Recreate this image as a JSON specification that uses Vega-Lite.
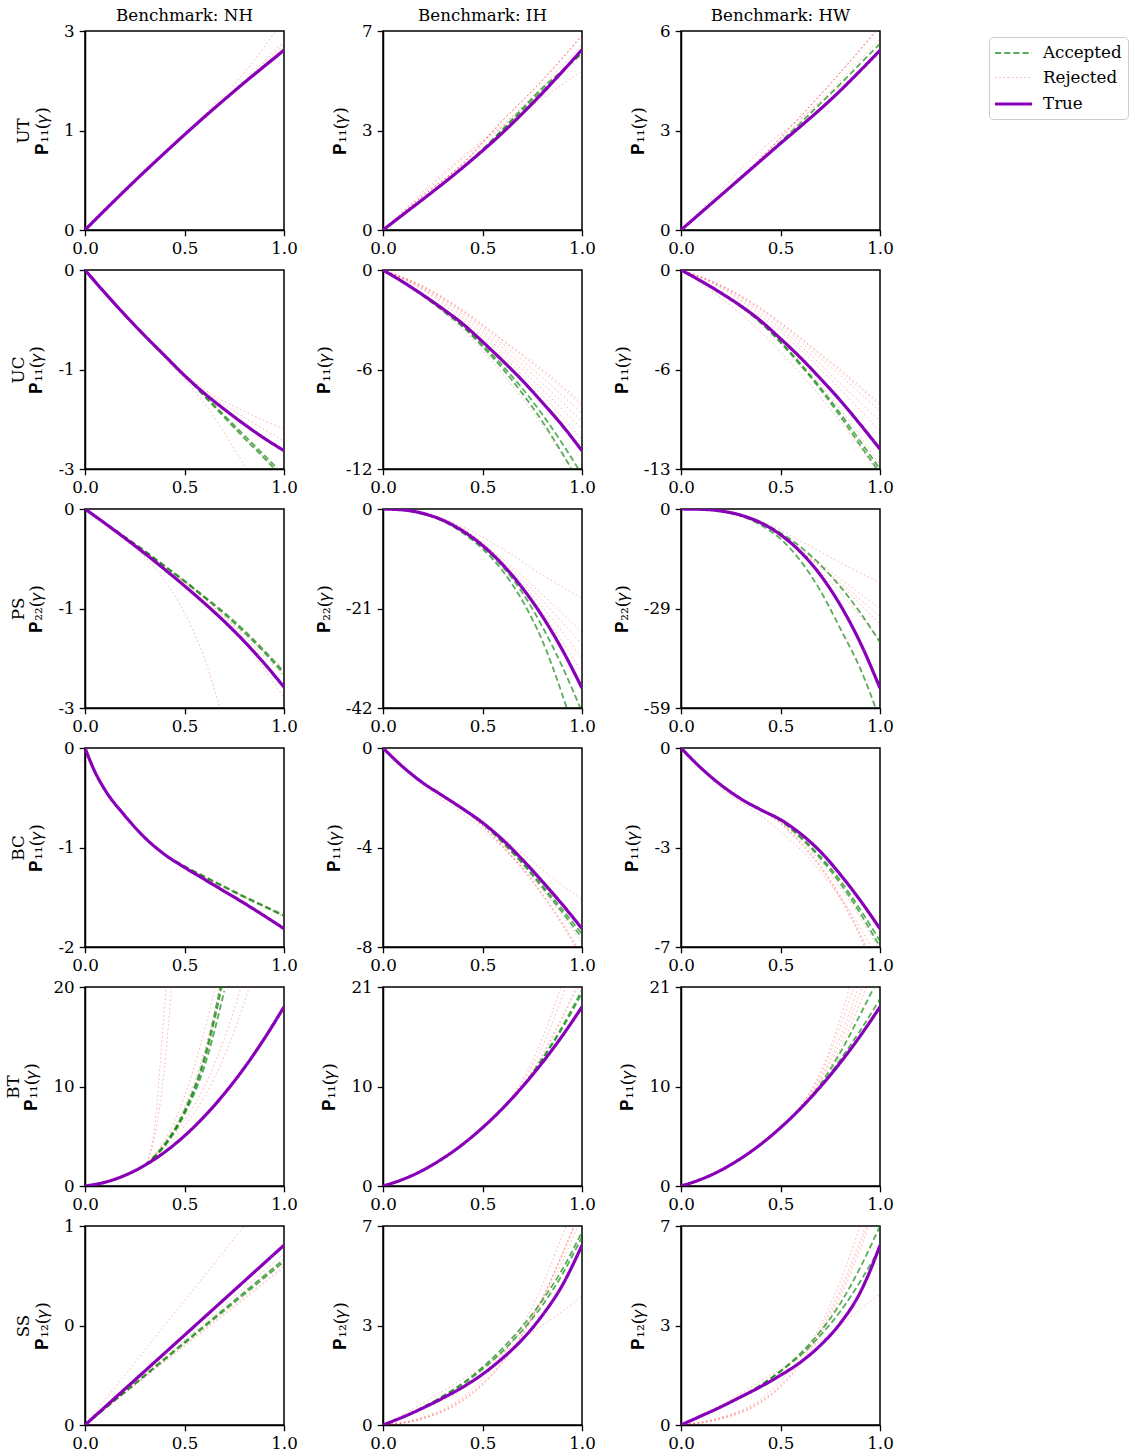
{
"$schema":"https://vega.github.io/schema/vega-lite/v6.json",
"background":"white",
"padding":{"left":4,"top":7,"right":2,"bottom":5},
"config":{
 "font":"DejaVu Serif",
 "view":{"stroke":"black","strokeWidth":1.5},
 "axis":{"grid":false,"domainColor":"black","domainWidth":1.5,"tickColor":"black","tickSize":5.8,"tickWidth":1.3,"labelColor":"black","labelFontSize":16.7,"labelFont":"DejaVu Serif","labelPadding":5,"titleFont":"DejaVu Serif","titleFontSize":16.7,"titleFontWeight":"normal","titleColor":"black","titlePadding":12,"labelFlush":false,"labelOverlap":false},
 "title":{"font":"DejaVu Serif","fontSize":16.7,"fontWeight":"normal","color":"black","offset":-2},
 "legend":{"orient":"none","legendX":904,"legendY":6,"symbolType":"M-1.22,0H2.9","symbolSize":324,"labelFont":"DejaVu Serif","labelFontSize":16.7,"labelColor":"black","strokeColor":"#cccccc","cornerRadius":4,"padding":6,"fillColor":"white","rowPadding":6,"labelOffset":26}
},
"datasets":{
"UT_NH":[
{"s":"Rejected","c":1,"x":0,"y":0},{"s":"Rejected","c":1,"x":0.2,"y":0.52},{"s":"Rejected","c":1,"x":0.4,"y":1.014},{"s":"Rejected","c":1,"x":0.6,"y":1.508},{"s":"Rejected","c":1,"x":0.8,"y":2.054},{"s":"Rejected","c":1,"x":1,"y":2.756},
{"s":"Rejected","c":2,"x":0,"y":0},{"s":"Rejected","c":2,"x":0.2,"y":0.515},{"s":"Rejected","c":2,"x":0.4,"y":1.006},{"s":"Rejected","c":2,"x":0.6,"y":1.477},{"s":"Rejected","c":2,"x":0.8,"y":1.937},{"s":"Rejected","c":2,"x":1,"y":2.431},
{"s":"Rejected","c":3,"x":0,"y":0},{"s":"Rejected","c":3,"x":0.2,"y":0.515},{"s":"Rejected","c":3,"x":0.4,"y":1.006},{"s":"Rejected","c":3,"x":0.6,"y":1.477},{"s":"Rejected","c":3,"x":0.8,"y":1.929},{"s":"Rejected","c":3,"x":1,"y":2.392},
{"s":"Rejected","c":4,"x":0,"y":0},{"s":"Rejected","c":4,"x":0.2,"y":0.515},{"s":"Rejected","c":4,"x":0.4,"y":1.006},{"s":"Rejected","c":4,"x":0.6,"y":1.482},{"s":"Rejected","c":4,"x":0.8,"y":1.95},{"s":"Rejected","c":4,"x":1,"y":2.47},
{"s":"Accepted","c":5,"x":0,"y":0},{"s":"Accepted","c":5,"x":0.2,"y":0.515},{"s":"Accepted","c":5,"x":0.4,"y":1.006},{"s":"Accepted","c":5,"x":0.6,"y":1.477},{"s":"Accepted","c":5,"x":0.8,"y":1.93},{"s":"Accepted","c":5,"x":1,"y":2.36},
{"s":"True","c":0,"x":0,"y":0},{"s":"True","c":0,"x":0.1,"y":0.26},{"s":"True","c":0,"x":0.2,"y":0.515},{"s":"True","c":0,"x":0.3,"y":0.764},{"s":"True","c":0,"x":0.4,"y":1.006},{"s":"True","c":0,"x":0.5,"y":1.245},{"s":"True","c":0,"x":0.6,"y":1.477},{"s":"True","c":0,"x":0.7,"y":1.703},{"s":"True","c":0,"x":0.8,"y":1.924},{"s":"True","c":0,"x":0.9,"y":2.137},{"s":"True","c":0,"x":1,"y":2.348}
],
"UT_IH":[
{"s":"Rejected","c":1,"x":0,"y":0},{"s":"Rejected","c":1,"x":0.2,"y":1.135},{"s":"Rejected","c":1,"x":0.4,"y":2.2},{"s":"Rejected","c":1,"x":0.6,"y":3.63},{"s":"Rejected","c":1,"x":0.8,"y":4.95},{"s":"Rejected","c":1,"x":1,"y":6.435},
{"s":"Rejected","c":2,"x":0,"y":0},{"s":"Rejected","c":2,"x":0.2,"y":1.122},{"s":"Rejected","c":2,"x":0.4,"y":2.19},{"s":"Rejected","c":2,"x":0.6,"y":3.617},{"s":"Rejected","c":2,"x":0.8,"y":4.963},{"s":"Rejected","c":2,"x":1,"y":6.468},
{"s":"Rejected","c":3,"x":0,"y":0},{"s":"Rejected","c":3,"x":0.2,"y":1.188},{"s":"Rejected","c":3,"x":0.4,"y":2.376},{"s":"Rejected","c":3,"x":0.6,"y":3.432},{"s":"Rejected","c":3,"x":0.8,"y":4.356},{"s":"Rejected","c":3,"x":1,"y":5.28},
{"s":"Rejected","c":4,"x":0,"y":0},{"s":"Rejected","c":4,"x":0.2,"y":1.056},{"s":"Rejected","c":4,"x":0.4,"y":2.178},{"s":"Rejected","c":4,"x":0.6,"y":3.432},{"s":"Rejected","c":4,"x":0.8,"y":4.752},{"s":"Rejected","c":4,"x":1,"y":6.138},
{"s":"Rejected","c":5,"x":0,"y":0},{"s":"Rejected","c":5,"x":0.2,"y":1.254},{"s":"Rejected","c":5,"x":0.4,"y":2.442},{"s":"Rejected","c":5,"x":0.6,"y":3.498},{"s":"Rejected","c":5,"x":0.8,"y":4.62},{"s":"Rejected","c":5,"x":1,"y":5.742},
{"s":"Rejected","c":11,"x":0,"y":0},{"s":"Rejected","c":11,"x":0.2,"y":1.13},{"s":"Rejected","c":11,"x":0.4,"y":2.21},{"s":"Rejected","c":11,"x":0.6,"y":3.625},{"s":"Rejected","c":11,"x":0.8,"y":4.955},{"s":"Rejected","c":11,"x":1,"y":6.45},
{"s":"Accepted","c":6,"x":0,"y":0},{"s":"Accepted","c":6,"x":0.1,"y":0.508},{"s":"Accepted","c":6,"x":0.2,"y":1.016},{"s":"Accepted","c":6,"x":0.3,"y":1.531},{"s":"Accepted","c":6,"x":0.4,"y":2.079},{"s":"Accepted","c":6,"x":0.5,"y":2.673},{"s":"Accepted","c":6,"x":0.6,"y":3.333},{"s":"Accepted","c":6,"x":0.7,"y":4.026},{"s":"Accepted","c":6,"x":0.8,"y":4.706},{"s":"Accepted","c":6,"x":0.9,"y":5.28},{"s":"Accepted","c":6,"x":1,"y":5.848},
{"s":"Accepted","c":7,"x":0,"y":0},{"s":"Accepted","c":7,"x":0.1,"y":0.508},{"s":"Accepted","c":7,"x":0.2,"y":1.016},{"s":"Accepted","c":7,"x":0.3,"y":1.531},{"s":"Accepted","c":7,"x":0.4,"y":2.079},{"s":"Accepted","c":7,"x":0.5,"y":2.66},{"s":"Accepted","c":7,"x":0.6,"y":3.3},{"s":"Accepted","c":7,"x":0.7,"y":3.96},{"s":"Accepted","c":7,"x":0.8,"y":4.62},{"s":"Accepted","c":7,"x":0.9,"y":5.247},{"s":"Accepted","c":7,"x":1,"y":5.894},
{"s":"True","c":0,"x":0,"y":0},{"s":"True","c":0,"x":0.1,"y":0.508},{"s":"True","c":0,"x":0.2,"y":1.016},{"s":"True","c":0,"x":0.3,"y":1.531},{"s":"True","c":0,"x":0.4,"y":2.066},{"s":"True","c":0,"x":0.5,"y":2.627},{"s":"True","c":0,"x":0.6,"y":3.221},{"s":"True","c":0,"x":0.7,"y":3.861},{"s":"True","c":0,"x":0.8,"y":4.534},{"s":"True","c":0,"x":0.9,"y":5.247},{"s":"True","c":0,"x":1,"y":5.98}
],
"UT_HW":[
{"s":"Rejected","c":1,"x":0,"y":0},{"s":"Rejected","c":1,"x":0.2,"y":0.986},{"s":"Rejected","c":1,"x":0.4,"y":2.088},{"s":"Rejected","c":1,"x":0.6,"y":3.306},{"s":"Rejected","c":1,"x":0.8,"y":4.582},{"s":"Rejected","c":1,"x":1,"y":5.974},
{"s":"Rejected","c":2,"x":0,"y":0},{"s":"Rejected","c":2,"x":0.2,"y":0.998},{"s":"Rejected","c":2,"x":0.4,"y":2.1},{"s":"Rejected","c":2,"x":0.6,"y":3.318},{"s":"Rejected","c":2,"x":0.8,"y":4.582},{"s":"Rejected","c":2,"x":1,"y":5.916},
{"s":"Rejected","c":6,"x":0,"y":0},{"s":"Rejected","c":6,"x":0.2,"y":0.99},{"s":"Rejected","c":6,"x":0.4,"y":2.094},{"s":"Rejected","c":6,"x":0.6,"y":3.31},{"s":"Rejected","c":6,"x":0.8,"y":4.59},{"s":"Rejected","c":6,"x":1,"y":5.95},
{"s":"Rejected","c":3,"x":0,"y":0},{"s":"Rejected","c":3,"x":0.2,"y":1.16},{"s":"Rejected","c":3,"x":0.4,"y":2.32},{"s":"Rejected","c":3,"x":0.6,"y":3.248},{"s":"Rejected","c":3,"x":0.8,"y":4.176},{"s":"Rejected","c":3,"x":1,"y":5.104},
{"s":"Rejected","c":4,"x":0,"y":0},{"s":"Rejected","c":4,"x":0.2,"y":1.044},{"s":"Rejected","c":4,"x":0.4,"y":2.088},{"s":"Rejected","c":4,"x":0.6,"y":3.19},{"s":"Rejected","c":4,"x":0.8,"y":4.35},{"s":"Rejected","c":4,"x":1,"y":5.568},
{"s":"Accepted","c":5,"x":0,"y":0},{"s":"Accepted","c":5,"x":0.1,"y":0.505},{"s":"Accepted","c":5,"x":0.2,"y":1.009},{"s":"Accepted","c":5,"x":0.3,"y":1.514},{"s":"Accepted","c":5,"x":0.4,"y":2.03},{"s":"Accepted","c":5,"x":0.5,"y":2.569},{"s":"Accepted","c":5,"x":0.6,"y":3.115},{"s":"Accepted","c":5,"x":0.7,"y":3.683},{"s":"Accepted","c":5,"x":0.8,"y":4.251},{"s":"Accepted","c":5,"x":0.9,"y":4.843},{"s":"Accepted","c":5,"x":1,"y":5.429},
{"s":"True","c":0,"x":0,"y":0},{"s":"True","c":0,"x":0.1,"y":0.505},{"s":"True","c":0,"x":0.2,"y":1.009},{"s":"True","c":0,"x":0.3,"y":1.514},{"s":"True","c":0,"x":0.4,"y":2.018},{"s":"True","c":0,"x":0.5,"y":2.523},{"s":"True","c":0,"x":0.6,"y":3.016},{"s":"True","c":0,"x":0.7,"y":3.521},{"s":"True","c":0,"x":0.8,"y":4.06},{"s":"True","c":0,"x":0.9,"y":4.64},{"s":"True","c":0,"x":1,"y":5.237}
],
"UC_NH":[
{"s":"Rejected","c":1,"x":0,"y":0},{"s":"Rejected","c":1,"x":0.2,"y":-0.63},{"s":"Rejected","c":1,"x":0.4,"y":-1.232},{"s":"Rejected","c":1,"x":0.6,"y":-1.876},{"s":"Rejected","c":1,"x":0.8,"y":-2.744},{"s":"Rejected","c":1,"x":1,"y":-3.64},
{"s":"Rejected","c":2,"x":0,"y":0},{"s":"Rejected","c":2,"x":0.2,"y":-0.63},{"s":"Rejected","c":2,"x":0.4,"y":-1.204},{"s":"Rejected","c":2,"x":0.6,"y":-1.68},{"s":"Rejected","c":2,"x":0.8,"y":-1.988},{"s":"Rejected","c":2,"x":1,"y":-2.24},
{"s":"Rejected","c":3,"x":0,"y":0},{"s":"Rejected","c":3,"x":0.2,"y":-0.63},{"s":"Rejected","c":3,"x":0.4,"y":-1.204},{"s":"Rejected","c":3,"x":0.6,"y":-1.708},{"s":"Rejected","c":3,"x":0.8,"y":-2.072},{"s":"Rejected","c":3,"x":1,"y":-2.408},
{"s":"Rejected","c":4,"x":0,"y":0},{"s":"Rejected","c":4,"x":0.2,"y":-0.63},{"s":"Rejected","c":4,"x":0.4,"y":-1.204},{"s":"Rejected","c":4,"x":0.6,"y":-1.764},{"s":"Rejected","c":4,"x":0.8,"y":-2.352},{"s":"Rejected","c":4,"x":1,"y":-2.912},
{"s":"Accepted","c":5,"x":0,"y":0},{"s":"Accepted","c":5,"x":0.1,"y":-0.322},{"s":"Accepted","c":5,"x":0.2,"y":-0.63},{"s":"Accepted","c":5,"x":0.3,"y":-0.924},{"s":"Accepted","c":5,"x":0.4,"y":-1.204},{"s":"Accepted","c":5,"x":0.5,"y":-1.484},{"s":"Accepted","c":5,"x":0.6,"y":-1.778},{"s":"Accepted","c":5,"x":0.7,"y":-2.072},{"s":"Accepted","c":5,"x":0.8,"y":-2.366},{"s":"Accepted","c":5,"x":0.9,"y":-2.646},{"s":"Accepted","c":5,"x":1,"y":-2.94},
{"s":"Accepted","c":6,"x":0,"y":0},{"s":"Accepted","c":6,"x":0.1,"y":-0.322},{"s":"Accepted","c":6,"x":0.2,"y":-0.63},{"s":"Accepted","c":6,"x":0.3,"y":-0.924},{"s":"Accepted","c":6,"x":0.4,"y":-1.204},{"s":"Accepted","c":6,"x":0.5,"y":-1.484},{"s":"Accepted","c":6,"x":0.6,"y":-1.764},{"s":"Accepted","c":6,"x":0.7,"y":-2.044},{"s":"Accepted","c":6,"x":0.8,"y":-2.324},{"s":"Accepted","c":6,"x":0.9,"y":-2.604},{"s":"Accepted","c":6,"x":1,"y":-2.884},
{"s":"True","c":0,"x":0,"y":0},{"s":"True","c":0,"x":0.1,"y":-0.322},{"s":"True","c":0,"x":0.2,"y":-0.63},{"s":"True","c":0,"x":0.3,"y":-0.924},{"s":"True","c":0,"x":0.4,"y":-1.204},{"s":"True","c":0,"x":0.5,"y":-1.484},{"s":"True","c":0,"x":0.6,"y":-1.736},{"s":"True","c":0,"x":0.7,"y":-1.96},{"s":"True","c":0,"x":0.8,"y":-2.17},{"s":"True","c":0,"x":0.9,"y":-2.366},{"s":"True","c":0,"x":1,"y":-2.542}
],
"UC_IH":[
{"s":"Rejected","c":1,"x":0,"y":0},{"s":"Rejected","c":1,"x":0.2,"y":-0.96},{"s":"Rejected","c":1,"x":0.4,"y":-2.4},{"s":"Rejected","c":1,"x":0.6,"y":-4.2},{"s":"Rejected","c":1,"x":0.8,"y":-6},{"s":"Rejected","c":1,"x":1,"y":-8.04},
{"s":"Rejected","c":2,"x":0,"y":0},{"s":"Rejected","c":2,"x":0.2,"y":-0.984},{"s":"Rejected","c":2,"x":0.4,"y":-2.46},{"s":"Rejected","c":2,"x":0.6,"y":-4.26},{"s":"Rejected","c":2,"x":0.8,"y":-6.12},{"s":"Rejected","c":2,"x":1,"y":-8.16},
{"s":"Rejected","c":3,"x":0,"y":0},{"s":"Rejected","c":3,"x":0.2,"y":-1.02},{"s":"Rejected","c":3,"x":0.4,"y":-2.52},{"s":"Rejected","c":3,"x":0.6,"y":-4.44},{"s":"Rejected","c":3,"x":0.8,"y":-6.48},{"s":"Rejected","c":3,"x":1,"y":-8.64},
{"s":"Rejected","c":4,"x":0,"y":0},{"s":"Rejected","c":4,"x":0.2,"y":-1.08},{"s":"Rejected","c":4,"x":0.4,"y":-2.64},{"s":"Rejected","c":4,"x":0.6,"y":-4.68},{"s":"Rejected","c":4,"x":0.8,"y":-6.84},{"s":"Rejected","c":4,"x":1,"y":-9.12},
{"s":"Rejected","c":5,"x":0,"y":0},{"s":"Rejected","c":5,"x":0.2,"y":-1.14},{"s":"Rejected","c":5,"x":0.4,"y":-2.82},{"s":"Rejected","c":5,"x":0.6,"y":-4.92},{"s":"Rejected","c":5,"x":0.8,"y":-7.2},{"s":"Rejected","c":5,"x":1,"y":-9.6},
{"s":"Rejected","c":6,"x":0,"y":0},{"s":"Rejected","c":6,"x":0.2,"y":-1.2},{"s":"Rejected","c":6,"x":0.4,"y":-3},{"s":"Rejected","c":6,"x":0.6,"y":-5.16},{"s":"Rejected","c":6,"x":0.8,"y":-7.56},{"s":"Rejected","c":6,"x":1,"y":-10.2},
{"s":"Rejected","c":7,"x":0,"y":0},{"s":"Rejected","c":7,"x":0.2,"y":-1.56},{"s":"Rejected","c":7,"x":0.4,"y":-3.6},{"s":"Rejected","c":7,"x":0.6,"y":-6.24},{"s":"Rejected","c":7,"x":0.8,"y":-9.36},{"s":"Rejected","c":7,"x":1,"y":-12.96},
{"s":"Accepted","c":8,"x":0,"y":0},{"s":"Accepted","c":8,"x":0.1,"y":-0.72},{"s":"Accepted","c":8,"x":0.2,"y":-1.56},{"s":"Accepted","c":8,"x":0.3,"y":-2.46},{"s":"Accepted","c":8,"x":0.4,"y":-3.42},{"s":"Accepted","c":8,"x":0.5,"y":-4.62},{"s":"Accepted","c":8,"x":0.6,"y":-5.94},{"s":"Accepted","c":8,"x":0.7,"y":-7.44},{"s":"Accepted","c":8,"x":0.8,"y":-9.12},{"s":"Accepted","c":8,"x":0.9,"y":-11.04},{"s":"Accepted","c":8,"x":1,"y":-13.08},
{"s":"Accepted","c":9,"x":0,"y":0},{"s":"Accepted","c":9,"x":0.1,"y":-0.72},{"s":"Accepted","c":9,"x":0.2,"y":-1.536},{"s":"Accepted","c":9,"x":0.3,"y":-2.4},{"s":"Accepted","c":9,"x":0.4,"y":-3.36},{"s":"Accepted","c":9,"x":0.5,"y":-4.5},{"s":"Accepted","c":9,"x":0.6,"y":-5.76},{"s":"Accepted","c":9,"x":0.7,"y":-7.14},{"s":"Accepted","c":9,"x":0.8,"y":-8.7},{"s":"Accepted","c":9,"x":0.9,"y":-10.44},{"s":"Accepted","c":9,"x":1,"y":-12.36},
{"s":"True","c":0,"x":0,"y":0},{"s":"True","c":0,"x":0.1,"y":-0.72},{"s":"True","c":0,"x":0.2,"y":-1.5},{"s":"True","c":0,"x":0.3,"y":-2.34},{"s":"True","c":0,"x":0.4,"y":-3.24},{"s":"True","c":0,"x":0.5,"y":-4.32},{"s":"True","c":0,"x":0.6,"y":-5.46},{"s":"True","c":0,"x":0.7,"y":-6.66},{"s":"True","c":0,"x":0.8,"y":-7.98},{"s":"True","c":0,"x":0.9,"y":-9.36},{"s":"True","c":0,"x":1,"y":-10.9}
],
"UC_HW":[
{"s":"Rejected","c":1,"x":0,"y":0},{"s":"Rejected","c":1,"x":0.2,"y":-0.945},{"s":"Rejected","c":1,"x":0.4,"y":-2.394},{"s":"Rejected","c":1,"x":0.6,"y":-4.284},{"s":"Rejected","c":1,"x":0.8,"y":-6.3},{"s":"Rejected","c":1,"x":1,"y":-8.442},
{"s":"Rejected","c":2,"x":0,"y":0},{"s":"Rejected","c":2,"x":0.2,"y":-0.983},{"s":"Rejected","c":2,"x":0.4,"y":-2.457},{"s":"Rejected","c":2,"x":0.6,"y":-4.347},{"s":"Rejected","c":2,"x":0.8,"y":-6.426},{"s":"Rejected","c":2,"x":1,"y":-8.568},
{"s":"Rejected","c":3,"x":0,"y":0},{"s":"Rejected","c":3,"x":0.2,"y":-1.008},{"s":"Rejected","c":3,"x":0.4,"y":-2.52},{"s":"Rejected","c":3,"x":0.6,"y":-4.536},{"s":"Rejected","c":3,"x":0.8,"y":-6.678},{"s":"Rejected","c":3,"x":1,"y":-8.946},
{"s":"Rejected","c":4,"x":0,"y":0},{"s":"Rejected","c":4,"x":0.2,"y":-1.071},{"s":"Rejected","c":4,"x":0.4,"y":-2.709},{"s":"Rejected","c":4,"x":0.6,"y":-4.788},{"s":"Rejected","c":4,"x":0.8,"y":-7.182},{"s":"Rejected","c":4,"x":1,"y":-9.576},
{"s":"Rejected","c":5,"x":0,"y":0},{"s":"Rejected","c":5,"x":0.2,"y":-1.134},{"s":"Rejected","c":5,"x":0.4,"y":-2.898},{"s":"Rejected","c":5,"x":0.6,"y":-5.04},{"s":"Rejected","c":5,"x":0.8,"y":-7.56},{"s":"Rejected","c":5,"x":1,"y":-10.206},
{"s":"Rejected","c":6,"x":0,"y":0},{"s":"Rejected","c":6,"x":0.2,"y":-1.764},{"s":"Rejected","c":6,"x":0.4,"y":-3.906},{"s":"Rejected","c":6,"x":0.6,"y":-6.552},{"s":"Rejected","c":6,"x":0.8,"y":-9.576},{"s":"Rejected","c":6,"x":1,"y":-12.978},
{"s":"Rejected","c":7,"x":0,"y":0},{"s":"Rejected","c":7,"x":0.2,"y":-1.512},{"s":"Rejected","c":7,"x":0.4,"y":-3.402},{"s":"Rejected","c":7,"x":0.6,"y":-5.796},{"s":"Rejected","c":7,"x":0.8,"y":-8.82},{"s":"Rejected","c":7,"x":1,"y":-12.348},
{"s":"Accepted","c":8,"x":0,"y":0},{"s":"Accepted","c":8,"x":0.1,"y":-0.693},{"s":"Accepted","c":8,"x":0.2,"y":-1.449},{"s":"Accepted","c":8,"x":0.3,"y":-2.268},{"s":"Accepted","c":8,"x":0.4,"y":-3.276},{"s":"Accepted","c":8,"x":0.5,"y":-4.536},{"s":"Accepted","c":8,"x":0.6,"y":-5.922},{"s":"Accepted","c":8,"x":0.7,"y":-7.434},{"s":"Accepted","c":8,"x":0.8,"y":-9.072},{"s":"Accepted","c":8,"x":0.9,"y":-10.836},{"s":"Accepted","c":8,"x":1,"y":-12.6},
{"s":"Accepted","c":9,"x":0,"y":0},{"s":"Accepted","c":9,"x":0.1,"y":-0.693},{"s":"Accepted","c":9,"x":0.2,"y":-1.462},{"s":"Accepted","c":9,"x":0.3,"y":-2.306},{"s":"Accepted","c":9,"x":0.4,"y":-3.339},{"s":"Accepted","c":9,"x":0.5,"y":-4.599},{"s":"Accepted","c":9,"x":0.6,"y":-6.023},{"s":"Accepted","c":9,"x":0.7,"y":-7.56},{"s":"Accepted","c":9,"x":0.8,"y":-9.261},{"s":"Accepted","c":9,"x":0.9,"y":-11.088},{"s":"Accepted","c":9,"x":1,"y":-12.852},
{"s":"True","c":0,"x":0,"y":0},{"s":"True","c":0,"x":0.1,"y":-0.693},{"s":"True","c":0,"x":0.2,"y":-1.449},{"s":"True","c":0,"x":0.3,"y":-2.268},{"s":"True","c":0,"x":0.4,"y":-3.213},{"s":"True","c":0,"x":0.5,"y":-4.347},{"s":"True","c":0,"x":0.6,"y":-5.544},{"s":"True","c":0,"x":0.7,"y":-6.867},{"s":"True","c":0,"x":0.8,"y":-8.253},{"s":"True","c":0,"x":0.9,"y":-9.765},{"s":"True","c":0,"x":1,"y":-11.34}
],
"PS_NH":[
{"s":"Rejected","c":1,"x":0,"y":0},{"s":"Rejected","c":1,"x":0.2,"y":-0.38},{"s":"Rejected","c":1,"x":0.3,"y":-0.624},{"s":"Rejected","c":1,"x":0.4,"y":-0.936},{"s":"Rejected","c":1,"x":0.5,"y":-1.352},{"s":"Rejected","c":1,"x":0.6,"y":-1.95},{"s":"Rejected","c":1,"x":0.7,"y":-2.808},
{"s":"Rejected","c":2,"x":0,"y":0},{"s":"Rejected","c":2,"x":0.2,"y":-0.364},{"s":"Rejected","c":2,"x":0.4,"y":-0.754},{"s":"Rejected","c":2,"x":0.6,"y":-1.17},{"s":"Rejected","c":2,"x":0.8,"y":-1.638},{"s":"Rejected","c":2,"x":1,"y":-2.08},
{"s":"Rejected","c":3,"x":0,"y":0},{"s":"Rejected","c":3,"x":0.2,"y":-0.364},{"s":"Rejected","c":3,"x":0.4,"y":-0.754},{"s":"Rejected","c":3,"x":0.6,"y":-1.17},{"s":"Rejected","c":3,"x":0.8,"y":-1.664},{"s":"Rejected","c":3,"x":1,"y":-2.184},
{"s":"Rejected","c":4,"x":0,"y":0},{"s":"Rejected","c":4,"x":0.2,"y":-0.377},{"s":"Rejected","c":4,"x":0.4,"y":-0.78},{"s":"Rejected","c":4,"x":0.6,"y":-1.222},{"s":"Rejected","c":4,"x":0.8,"y":-1.742},{"s":"Rejected","c":4,"x":1,"y":-2.47},
{"s":"Rejected","c":5,"x":0,"y":0},{"s":"Rejected","c":5,"x":0.2,"y":-0.364},{"s":"Rejected","c":5,"x":0.4,"y":-0.741},{"s":"Rejected","c":5,"x":0.6,"y":-1.144},{"s":"Rejected","c":5,"x":0.8,"y":-1.612},{"s":"Rejected","c":5,"x":1,"y":-2.132},
{"s":"Accepted","c":6,"x":0,"y":0},{"s":"Accepted","c":6,"x":0.1,"y":-0.182},{"s":"Accepted","c":6,"x":0.2,"y":-0.364},{"s":"Accepted","c":6,"x":0.3,"y":-0.546},{"s":"Accepted","c":6,"x":0.4,"y":-0.741},{"s":"Accepted","c":6,"x":0.5,"y":-0.936},{"s":"Accepted","c":6,"x":0.6,"y":-1.144},{"s":"Accepted","c":6,"x":0.7,"y":-1.352},{"s":"Accepted","c":6,"x":0.8,"y":-1.586},{"s":"Accepted","c":6,"x":0.9,"y":-1.846},{"s":"Accepted","c":6,"x":1,"y":-2.132},
{"s":"Accepted","c":7,"x":0,"y":0},{"s":"Accepted","c":7,"x":0.1,"y":-0.182},{"s":"Accepted","c":7,"x":0.2,"y":-0.364},{"s":"Accepted","c":7,"x":0.3,"y":-0.551},{"s":"Accepted","c":7,"x":0.4,"y":-0.749},{"s":"Accepted","c":7,"x":0.5,"y":-0.949},{"s":"Accepted","c":7,"x":0.6,"y":-1.157},{"s":"Accepted","c":7,"x":0.7,"y":-1.373},{"s":"Accepted","c":7,"x":0.8,"y":-1.612},{"s":"Accepted","c":7,"x":0.9,"y":-1.872},{"s":"Accepted","c":7,"x":1,"y":-2.158},
{"s":"True","c":0,"x":0,"y":0},{"s":"True","c":0,"x":0.1,"y":-0.187},{"s":"True","c":0,"x":0.2,"y":-0.38},{"s":"True","c":0,"x":0.3,"y":-0.58},{"s":"True","c":0,"x":0.4,"y":-0.788},{"s":"True","c":0,"x":0.5,"y":-1.004},{"s":"True","c":0,"x":0.6,"y":-1.23},{"s":"True","c":0,"x":0.7,"y":-1.469},{"s":"True","c":0,"x":0.8,"y":-1.729},{"s":"True","c":0,"x":0.9,"y":-2.015},{"s":"True","c":0,"x":1,"y":-2.327}
],
"PS_IH":[
{"s":"Rejected","c":1,"x":0,"y":0},{"s":"Rejected","c":1,"x":0.2,"y":-0.84},{"s":"Rejected","c":1,"x":0.4,"y":-3.78},{"s":"Rejected","c":1,"x":0.6,"y":-8.4},{"s":"Rejected","c":1,"x":0.8,"y":-13.86},{"s":"Rejected","c":1,"x":1,"y":-18.9},
{"s":"Rejected","c":2,"x":0,"y":0},{"s":"Rejected","c":2,"x":0.2,"y":-0.84},{"s":"Rejected","c":2,"x":0.4,"y":-4.2},{"s":"Rejected","c":2,"x":0.6,"y":-10.5},{"s":"Rejected","c":2,"x":0.8,"y":-18.06},{"s":"Rejected","c":2,"x":1,"y":-26.04},
{"s":"Rejected","c":3,"x":0,"y":0},{"s":"Rejected","c":3,"x":0.2,"y":-0.84},{"s":"Rejected","c":3,"x":0.4,"y":-4.2},{"s":"Rejected","c":3,"x":0.6,"y":-10.92},{"s":"Rejected","c":3,"x":0.8,"y":-19.32},{"s":"Rejected","c":3,"x":1,"y":-28.56},
{"s":"Rejected","c":4,"x":0,"y":0},{"s":"Rejected","c":4,"x":0.2,"y":-0.84},{"s":"Rejected","c":4,"x":0.4,"y":-4.62},{"s":"Rejected","c":4,"x":0.6,"y":-11.34},{"s":"Rejected","c":4,"x":0.8,"y":-20.58},{"s":"Rejected","c":4,"x":1,"y":-31.5},
{"s":"Rejected","c":5,"x":0,"y":0},{"s":"Rejected","c":5,"x":0.2,"y":-0.84},{"s":"Rejected","c":5,"x":0.4,"y":-4.62},{"s":"Rejected","c":5,"x":0.6,"y":-11.76},{"s":"Rejected","c":5,"x":0.8,"y":-21.84},{"s":"Rejected","c":5,"x":1,"y":-34.44},
{"s":"Accepted","c":6,"x":0,"y":0},{"s":"Accepted","c":6,"x":0.1,"y":-0.21},{"s":"Accepted","c":6,"x":0.2,"y":-1.008},{"s":"Accepted","c":6,"x":0.3,"y":-2.52},{"s":"Accepted","c":6,"x":0.4,"y":-5.04},{"s":"Accepted","c":6,"x":0.5,"y":-8.4},{"s":"Accepted","c":6,"x":0.6,"y":-13.02},{"s":"Accepted","c":6,"x":0.7,"y":-19.32},{"s":"Accepted","c":6,"x":0.8,"y":-27.72},{"s":"Accepted","c":6,"x":0.9,"y":-39.06},{"s":"Accepted","c":6,"x":1,"y":-52.5},
{"s":"Accepted","c":7,"x":0,"y":0},{"s":"Accepted","c":7,"x":0.1,"y":-0.21},{"s":"Accepted","c":7,"x":0.2,"y":-0.966},{"s":"Accepted","c":7,"x":0.3,"y":-2.436},{"s":"Accepted","c":7,"x":0.4,"y":-4.83},{"s":"Accepted","c":7,"x":0.5,"y":-7.98},{"s":"Accepted","c":7,"x":0.6,"y":-12.18},{"s":"Accepted","c":7,"x":0.7,"y":-17.64},{"s":"Accepted","c":7,"x":0.8,"y":-24.78},{"s":"Accepted","c":7,"x":0.9,"y":-33.18},{"s":"Accepted","c":7,"x":1,"y":-42.84},
{"s":"True","c":0,"x":0,"y":0},{"s":"True","c":0,"x":0.1,"y":-0.189},{"s":"True","c":0,"x":0.2,"y":-0.924},{"s":"True","c":0,"x":0.3,"y":-2.352},{"s":"True","c":0,"x":0.4,"y":-4.62},{"s":"True","c":0,"x":0.5,"y":-7.686},{"s":"True","c":0,"x":0.6,"y":-11.676},{"s":"True","c":0,"x":0.7,"y":-16.632},{"s":"True","c":0,"x":0.8,"y":-22.596},{"s":"True","c":0,"x":0.9,"y":-29.652},{"s":"True","c":0,"x":1,"y":-37.8}
],
"PS_HW":[
{"s":"Rejected","c":1,"x":0,"y":0},{"s":"Rejected","c":1,"x":0.2,"y":-0.469},{"s":"Rejected","c":1,"x":0.4,"y":-3.516},{"s":"Rejected","c":1,"x":0.6,"y":-9.376},{"s":"Rejected","c":1,"x":0.8,"y":-15.822},{"s":"Rejected","c":1,"x":1,"y":-21.682},
{"s":"Rejected","c":2,"x":0,"y":0},{"s":"Rejected","c":2,"x":0.2,"y":-0.469},{"s":"Rejected","c":2,"x":0.4,"y":-4.102},{"s":"Rejected","c":2,"x":0.6,"y":-11.72},{"s":"Rejected","c":2,"x":0.8,"y":-20.51},{"s":"Rejected","c":2,"x":1,"y":-29.3},
{"s":"Rejected","c":3,"x":0,"y":0},{"s":"Rejected","c":3,"x":0.2,"y":-0.469},{"s":"Rejected","c":3,"x":0.4,"y":-4.102},{"s":"Rejected","c":3,"x":0.6,"y":-12.306},{"s":"Rejected","c":3,"x":0.8,"y":-21.682},{"s":"Rejected","c":3,"x":1,"y":-31.644},
{"s":"Rejected","c":4,"x":0,"y":0},{"s":"Rejected","c":4,"x":0.2,"y":-0.469},{"s":"Rejected","c":4,"x":0.4,"y":-4.102},{"s":"Rejected","c":4,"x":0.6,"y":-12.306},{"s":"Rejected","c":4,"x":0.8,"y":-22.268},{"s":"Rejected","c":4,"x":1,"y":-33.988},
{"s":"Rejected","c":5,"x":0,"y":0},{"s":"Rejected","c":5,"x":0.2,"y":-0.469},{"s":"Rejected","c":5,"x":0.4,"y":-4.102},{"s":"Rejected","c":5,"x":0.6,"y":-12.892},{"s":"Rejected","c":5,"x":0.8,"y":-24.612},{"s":"Rejected","c":5,"x":1,"y":-38.676},
{"s":"Accepted","c":6,"x":0,"y":0},{"s":"Accepted","c":6,"x":0.1,"y":-0.082},{"s":"Accepted","c":6,"x":0.2,"y":-0.645},{"s":"Accepted","c":6,"x":0.3,"y":-2.051},{"s":"Accepted","c":6,"x":0.4,"y":-4.688},{"s":"Accepted","c":6,"x":0.5,"y":-8.79},{"s":"Accepted","c":6,"x":0.6,"y":-15.236},{"s":"Accepted","c":6,"x":0.7,"y":-24.026},{"s":"Accepted","c":6,"x":0.8,"y":-35.16},{"s":"Accepted","c":6,"x":0.9,"y":-46.88},{"s":"Accepted","c":6,"x":1,"y":-62.116},
{"s":"Accepted","c":7,"x":0,"y":0},{"s":"Accepted","c":7,"x":0.1,"y":-0.082},{"s":"Accepted","c":7,"x":0.2,"y":-0.586},{"s":"Accepted","c":7,"x":0.3,"y":-1.758},{"s":"Accepted","c":7,"x":0.4,"y":-3.868},{"s":"Accepted","c":7,"x":0.5,"y":-7.032},{"s":"Accepted","c":7,"x":0.6,"y":-11.134},{"s":"Accepted","c":7,"x":0.7,"y":-16.408},{"s":"Accepted","c":7,"x":0.8,"y":-22.854},{"s":"Accepted","c":7,"x":0.9,"y":-30.472},{"s":"Accepted","c":7,"x":1,"y":-39.262},
{"s":"True","c":0,"x":0,"y":0},{"s":"True","c":0,"x":0.1,"y":-0.082},{"s":"True","c":0,"x":0.2,"y":-0.586},{"s":"True","c":0,"x":0.3,"y":-1.817},{"s":"True","c":0,"x":0.4,"y":-4.043},{"s":"True","c":0,"x":0.5,"y":-7.559},{"s":"True","c":0,"x":0.6,"y":-12.599},{"s":"True","c":0,"x":0.7,"y":-19.397},{"s":"True","c":0,"x":0.8,"y":-28.245},{"s":"True","c":0,"x":0.9,"y":-39.262},{"s":"True","c":0,"x":1,"y":-52.74}
],
"BC_NH":[
{"s":"Rejected","c":1,"x":0,"y":0},{"s":"Rejected","c":1,"x":0.05,"y":-0.216},{"s":"Rejected","c":1,"x":0.1,"y":-0.378},{"s":"Rejected","c":1,"x":0.2,"y":-0.612},{"s":"Rejected","c":1,"x":0.4,"y":-0.963},{"s":"Rejected","c":1,"x":0.6,"y":-1.165},{"s":"Rejected","c":1,"x":0.8,"y":-1.345},{"s":"Rejected","c":1,"x":1,"y":-1.516},
{"s":"Rejected","c":2,"x":0,"y":0},{"s":"Rejected","c":2,"x":0.05,"y":-0.216},{"s":"Rejected","c":2,"x":0.1,"y":-0.378},{"s":"Rejected","c":2,"x":0.2,"y":-0.612},{"s":"Rejected","c":2,"x":0.4,"y":-0.963},{"s":"Rejected","c":2,"x":0.6,"y":-1.17},{"s":"Rejected","c":2,"x":0.8,"y":-1.35},{"s":"Rejected","c":2,"x":1,"y":-1.526},
{"s":"Accepted","c":3,"x":0,"y":0},{"s":"Accepted","c":3,"x":0.05,"y":-0.216},{"s":"Accepted","c":3,"x":0.1,"y":-0.378},{"s":"Accepted","c":3,"x":0.2,"y":-0.612},{"s":"Accepted","c":3,"x":0.3,"y":-0.81},{"s":"Accepted","c":3,"x":0.4,"y":-0.963},{"s":"Accepted","c":3,"x":0.5,"y":-1.067},{"s":"Accepted","c":3,"x":0.6,"y":-1.161},{"s":"Accepted","c":3,"x":0.7,"y":-1.251},{"s":"Accepted","c":3,"x":0.8,"y":-1.341},{"s":"Accepted","c":3,"x":0.9,"y":-1.426},{"s":"Accepted","c":3,"x":1,"y":-1.512},
{"s":"Accepted","c":4,"x":0,"y":0},{"s":"Accepted","c":4,"x":0.05,"y":-0.216},{"s":"Accepted","c":4,"x":0.1,"y":-0.378},{"s":"Accepted","c":4,"x":0.2,"y":-0.612},{"s":"Accepted","c":4,"x":0.3,"y":-0.81},{"s":"Accepted","c":4,"x":0.4,"y":-0.963},{"s":"Accepted","c":4,"x":0.5,"y":-1.071},{"s":"Accepted","c":4,"x":0.6,"y":-1.166},{"s":"Accepted","c":4,"x":0.7,"y":-1.26},{"s":"Accepted","c":4,"x":0.8,"y":-1.35},{"s":"Accepted","c":4,"x":0.9,"y":-1.435},{"s":"Accepted","c":4,"x":1,"y":-1.521},
{"s":"True","c":0,"x":0,"y":0},{"s":"True","c":0,"x":0.05,"y":-0.216},{"s":"True","c":0,"x":0.1,"y":-0.378},{"s":"True","c":0,"x":0.2,"y":-0.612},{"s":"True","c":0,"x":0.3,"y":-0.81},{"s":"True","c":0,"x":0.4,"y":-0.963},{"s":"True","c":0,"x":0.5,"y":-1.08},{"s":"True","c":0,"x":0.6,"y":-1.188},{"s":"True","c":0,"x":0.7,"y":-1.296},{"s":"True","c":0,"x":0.8,"y":-1.404},{"s":"True","c":0,"x":0.9,"y":-1.517},{"s":"True","c":0,"x":1,"y":-1.634}
],
"BC_IH":[
{"s":"Rejected","c":1,"x":0,"y":0},{"s":"Rejected","c":1,"x":0.2,"y":-1.4},{"s":"Rejected","c":1,"x":0.4,"y":-2.44},{"s":"Rejected","c":1,"x":0.5,"y":-3.16},{"s":"Rejected","c":1,"x":0.6,"y":-3.96},{"s":"Rejected","c":1,"x":0.7,"y":-4.88},{"s":"Rejected","c":1,"x":0.8,"y":-5.92},{"s":"Rejected","c":1,"x":0.9,"y":-7.12},{"s":"Rejected","c":1,"x":1,"y":-8.48},
{"s":"Rejected","c":2,"x":0,"y":0},{"s":"Rejected","c":2,"x":0.2,"y":-1.4},{"s":"Rejected","c":2,"x":0.4,"y":-2.44},{"s":"Rejected","c":2,"x":0.5,"y":-3.12},{"s":"Rejected","c":2,"x":0.6,"y":-3.92},{"s":"Rejected","c":2,"x":0.7,"y":-4.8},{"s":"Rejected","c":2,"x":0.8,"y":-5.84},{"s":"Rejected","c":2,"x":0.9,"y":-7},{"s":"Rejected","c":2,"x":1,"y":-8.32},
{"s":"Rejected","c":3,"x":0,"y":0},{"s":"Rejected","c":3,"x":0.2,"y":-1.4},{"s":"Rejected","c":3,"x":0.4,"y":-2.44},{"s":"Rejected","c":3,"x":0.5,"y":-3.136},{"s":"Rejected","c":3,"x":0.6,"y":-3.936},{"s":"Rejected","c":3,"x":0.7,"y":-4.84},{"s":"Rejected","c":3,"x":0.8,"y":-5.88},{"s":"Rejected","c":3,"x":0.9,"y":-7.056},{"s":"Rejected","c":3,"x":1,"y":-8.4},
{"s":"Rejected","c":4,"x":0,"y":0},{"s":"Rejected","c":4,"x":0.2,"y":-1.4},{"s":"Rejected","c":4,"x":0.4,"y":-2.44},{"s":"Rejected","c":4,"x":0.5,"y":-3},{"s":"Rejected","c":4,"x":0.6,"y":-3.6},{"s":"Rejected","c":4,"x":0.7,"y":-4.24},{"s":"Rejected","c":4,"x":0.8,"y":-4.88},{"s":"Rejected","c":4,"x":0.9,"y":-5.52},{"s":"Rejected","c":4,"x":1,"y":-6.08},
{"s":"Rejected","c":5,"x":0,"y":0},{"s":"Rejected","c":5,"x":0.2,"y":-1.52},{"s":"Rejected","c":5,"x":0.4,"y":-2.64},{"s":"Rejected","c":5,"x":0.5,"y":-3.28},{"s":"Rejected","c":5,"x":0.6,"y":-4},{"s":"Rejected","c":5,"x":0.7,"y":-4.8},{"s":"Rejected","c":5,"x":0.8,"y":-5.68},{"s":"Rejected","c":5,"x":0.9,"y":-6.72},{"s":"Rejected","c":5,"x":1,"y":-7.84},
{"s":"Accepted","c":6,"x":0,"y":0},{"s":"Accepted","c":6,"x":0.1,"y":-0.76},{"s":"Accepted","c":6,"x":0.2,"y":-1.4},{"s":"Accepted","c":6,"x":0.3,"y":-1.92},{"s":"Accepted","c":6,"x":0.4,"y":-2.44},{"s":"Accepted","c":6,"x":0.5,"y":-3.04},{"s":"Accepted","c":6,"x":0.6,"y":-3.8},{"s":"Accepted","c":6,"x":0.7,"y":-4.64},{"s":"Accepted","c":6,"x":0.8,"y":-5.6},{"s":"Accepted","c":6,"x":0.9,"y":-6.6},{"s":"Accepted","c":6,"x":1,"y":-7.64},
{"s":"Accepted","c":7,"x":0,"y":0},{"s":"Accepted","c":7,"x":0.1,"y":-0.76},{"s":"Accepted","c":7,"x":0.2,"y":-1.4},{"s":"Accepted","c":7,"x":0.3,"y":-1.92},{"s":"Accepted","c":7,"x":0.4,"y":-2.44},{"s":"Accepted","c":7,"x":0.5,"y":-3.024},{"s":"Accepted","c":7,"x":0.6,"y":-3.76},{"s":"Accepted","c":7,"x":0.7,"y":-4.6},{"s":"Accepted","c":7,"x":0.8,"y":-5.52},{"s":"Accepted","c":7,"x":0.9,"y":-6.48},{"s":"Accepted","c":7,"x":1,"y":-7.48},
{"s":"True","c":0,"x":0,"y":0},{"s":"True","c":0,"x":0.1,"y":-0.76},{"s":"True","c":0,"x":0.2,"y":-1.4},{"s":"True","c":0,"x":0.3,"y":-1.92},{"s":"True","c":0,"x":0.4,"y":-2.44},{"s":"True","c":0,"x":0.5,"y":-3},{"s":"True","c":0,"x":0.6,"y":-3.68},{"s":"True","c":0,"x":0.7,"y":-4.48},{"s":"True","c":0,"x":0.8,"y":-5.36},{"s":"True","c":0,"x":0.9,"y":-6.28},{"s":"True","c":0,"x":1,"y":-7.264}
],
"BC_HW":[
{"s":"Rejected","c":1,"x":0,"y":0},{"s":"Rejected","c":1,"x":0.2,"y":-1.221},{"s":"Rejected","c":1,"x":0.4,"y":-2.046},{"s":"Rejected","c":1,"x":0.5,"y":-2.508},{"s":"Rejected","c":1,"x":0.6,"y":-3.168},{"s":"Rejected","c":1,"x":0.7,"y":-3.96},{"s":"Rejected","c":1,"x":0.8,"y":-5.016},{"s":"Rejected","c":1,"x":0.9,"y":-6.27},{"s":"Rejected","c":1,"x":1,"y":-7.92},
{"s":"Rejected","c":2,"x":0,"y":0},{"s":"Rejected","c":2,"x":0.2,"y":-1.221},{"s":"Rejected","c":2,"x":0.4,"y":-2.046},{"s":"Rejected","c":2,"x":0.5,"y":-2.475},{"s":"Rejected","c":2,"x":0.6,"y":-3.102},{"s":"Rejected","c":2,"x":0.7,"y":-3.894},{"s":"Rejected","c":2,"x":0.8,"y":-4.884},{"s":"Rejected","c":2,"x":0.9,"y":-6.138},{"s":"Rejected","c":2,"x":1,"y":-7.722},
{"s":"Rejected","c":3,"x":0,"y":0},{"s":"Rejected","c":3,"x":0.2,"y":-1.221},{"s":"Rejected","c":3,"x":0.4,"y":-2.046},{"s":"Rejected","c":3,"x":0.5,"y":-2.495},{"s":"Rejected","c":3,"x":0.6,"y":-3.135},{"s":"Rejected","c":3,"x":0.7,"y":-3.927},{"s":"Rejected","c":3,"x":0.8,"y":-4.95},{"s":"Rejected","c":3,"x":0.9,"y":-6.204},{"s":"Rejected","c":3,"x":1,"y":-7.821},
{"s":"Rejected","c":4,"x":0,"y":0},{"s":"Rejected","c":4,"x":0.2,"y":-1.32},{"s":"Rejected","c":4,"x":0.4,"y":-2.244},{"s":"Rejected","c":4,"x":0.5,"y":-2.772},{"s":"Rejected","c":4,"x":0.6,"y":-3.366},{"s":"Rejected","c":4,"x":0.7,"y":-4.092},{"s":"Rejected","c":4,"x":0.8,"y":-4.95},{"s":"Rejected","c":4,"x":0.9,"y":-5.94},{"s":"Rejected","c":4,"x":1,"y":-7.128},
{"s":"Rejected","c":5,"x":0,"y":0},{"s":"Rejected","c":5,"x":0.2,"y":-1.221},{"s":"Rejected","c":5,"x":0.4,"y":-2.046},{"s":"Rejected","c":5,"x":0.5,"y":-2.442},{"s":"Rejected","c":5,"x":0.6,"y":-3.036},{"s":"Rejected","c":5,"x":0.7,"y":-3.762},{"s":"Rejected","c":5,"x":0.8,"y":-4.62},{"s":"Rejected","c":5,"x":0.9,"y":-5.61},{"s":"Rejected","c":5,"x":1,"y":-6.732},
{"s":"Accepted","c":6,"x":0,"y":0},{"s":"Accepted","c":6,"x":0.1,"y":-0.66},{"s":"Accepted","c":6,"x":0.2,"y":-1.221},{"s":"Accepted","c":6,"x":0.3,"y":-1.683},{"s":"Accepted","c":6,"x":0.4,"y":-2.046},{"s":"Accepted","c":6,"x":0.5,"y":-2.409},{"s":"Accepted","c":6,"x":0.6,"y":-2.97},{"s":"Accepted","c":6,"x":0.7,"y":-3.663},{"s":"Accepted","c":6,"x":0.8,"y":-4.488},{"s":"Accepted","c":6,"x":0.9,"y":-5.478},{"s":"Accepted","c":6,"x":1,"y":-6.6},
{"s":"Accepted","c":7,"x":0,"y":0},{"s":"Accepted","c":7,"x":0.1,"y":-0.66},{"s":"Accepted","c":7,"x":0.2,"y":-1.221},{"s":"Accepted","c":7,"x":0.3,"y":-1.683},{"s":"Accepted","c":7,"x":0.4,"y":-2.046},{"s":"Accepted","c":7,"x":0.5,"y":-2.396},{"s":"Accepted","c":7,"x":0.6,"y":-2.937},{"s":"Accepted","c":7,"x":0.7,"y":-3.597},{"s":"Accepted","c":7,"x":0.8,"y":-4.389},{"s":"Accepted","c":7,"x":0.9,"y":-5.346},{"s":"Accepted","c":7,"x":1,"y":-6.402},
{"s":"True","c":0,"x":0,"y":0},{"s":"True","c":0,"x":0.1,"y":-0.66},{"s":"True","c":0,"x":0.2,"y":-1.221},{"s":"True","c":0,"x":0.3,"y":-1.683},{"s":"True","c":0,"x":0.4,"y":-2.046},{"s":"True","c":0,"x":0.5,"y":-2.376},{"s":"True","c":0,"x":0.6,"y":-2.838},{"s":"True","c":0,"x":0.7,"y":-3.432},{"s":"True","c":0,"x":0.8,"y":-4.191},{"s":"True","c":0,"x":0.9,"y":-5.049},{"s":"True","c":0,"x":1,"y":-5.993}
],
"BT_NH":[
{"s":"Rejected","c":1,"x":0,"y":0},{"s":"Rejected","c":1,"x":0.2,"y":1.06},{"s":"Rejected","c":1,"x":0.3,"y":2.1},{"s":"Rejected","c":1,"x":0.35,"y":6},{"s":"Rejected","c":1,"x":0.4,"y":18},{"s":"Rejected","c":1,"x":0.45,"y":30},
{"s":"Rejected","c":2,"x":0,"y":0},{"s":"Rejected","c":2,"x":0.2,"y":1.06},{"s":"Rejected","c":2,"x":0.3,"y":2.1},{"s":"Rejected","c":2,"x":0.35,"y":5},{"s":"Rejected","c":2,"x":0.4,"y":12},{"s":"Rejected","c":2,"x":0.45,"y":24},
{"s":"Rejected","c":3,"x":0,"y":0},{"s":"Rejected","c":3,"x":0.2,"y":1.06},{"s":"Rejected","c":3,"x":0.3,"y":2.12},{"s":"Rejected","c":3,"x":0.4,"y":4.4},{"s":"Rejected","c":3,"x":0.5,"y":8},{"s":"Rejected","c":3,"x":0.6,"y":13.6},{"s":"Rejected","c":3,"x":0.7,"y":22},
{"s":"Rejected","c":4,"x":0,"y":0},{"s":"Rejected","c":4,"x":0.2,"y":1.06},{"s":"Rejected","c":4,"x":0.3,"y":2.12},{"s":"Rejected","c":4,"x":0.4,"y":4},{"s":"Rejected","c":4,"x":0.5,"y":6.6},{"s":"Rejected","c":4,"x":0.6,"y":10},{"s":"Rejected","c":4,"x":0.7,"y":14.8},{"s":"Rejected","c":4,"x":0.8,"y":21},
{"s":"Rejected","c":5,"x":0,"y":0},{"s":"Rejected","c":5,"x":0.2,"y":1.06},{"s":"Rejected","c":5,"x":0.3,"y":2.12},{"s":"Rejected","c":5,"x":0.4,"y":3.8},{"s":"Rejected","c":5,"x":0.5,"y":6},{"s":"Rejected","c":5,"x":0.6,"y":9},{"s":"Rejected","c":5,"x":0.7,"y":13},{"s":"Rejected","c":5,"x":0.8,"y":18.4},{"s":"Rejected","c":5,"x":0.9,"y":25},
{"s":"Rejected","c":6,"x":0,"y":0},{"s":"Rejected","c":6,"x":0.2,"y":1.06},{"s":"Rejected","c":6,"x":0.3,"y":2.12},{"s":"Rejected","c":6,"x":0.4,"y":4.6},{"s":"Rejected","c":6,"x":0.5,"y":9},{"s":"Rejected","c":6,"x":0.6,"y":15.6},{"s":"Rejected","c":6,"x":0.7,"y":24},
{"s":"Rejected","c":7,"x":0,"y":0},{"s":"Rejected","c":7,"x":0.2,"y":1.06},{"s":"Rejected","c":7,"x":0.3,"y":2.1},{"s":"Rejected","c":7,"x":0.4,"y":4.2},{"s":"Rejected","c":7,"x":0.5,"y":7.4},{"s":"Rejected","c":7,"x":0.6,"y":12.8},{"s":"Rejected","c":7,"x":0.7,"y":21.2},
{"s":"Accepted","c":8,"x":0,"y":0},{"s":"Accepted","c":8,"x":0.1,"y":0.38},{"s":"Accepted","c":8,"x":0.2,"y":1.06},{"s":"Accepted","c":8,"x":0.3,"y":2.1},{"s":"Accepted","c":8,"x":0.4,"y":4.2},{"s":"Accepted","c":8,"x":0.5,"y":7.6},{"s":"Accepted","c":8,"x":0.6,"y":13},{"s":"Accepted","c":8,"x":0.7,"y":22},
{"s":"Accepted","c":9,"x":0,"y":0},{"s":"Accepted","c":9,"x":0.1,"y":0.38},{"s":"Accepted","c":9,"x":0.2,"y":1.06},{"s":"Accepted","c":9,"x":0.3,"y":2.1},{"s":"Accepted","c":9,"x":0.4,"y":4.1},{"s":"Accepted","c":9,"x":0.5,"y":7.4},{"s":"Accepted","c":9,"x":0.6,"y":12.6},{"s":"Accepted","c":9,"x":0.7,"y":21.2},
{"s":"Accepted","c":10,"x":0,"y":0},{"s":"Accepted","c":10,"x":0.1,"y":0.38},{"s":"Accepted","c":10,"x":0.2,"y":1.06},{"s":"Accepted","c":10,"x":0.3,"y":2.1},{"s":"Accepted","c":10,"x":0.4,"y":4},{"s":"Accepted","c":10,"x":0.5,"y":7.2},{"s":"Accepted","c":10,"x":0.6,"y":12},{"s":"Accepted","c":10,"x":0.7,"y":19.6},
{"s":"True","c":0,"x":0,"y":0},{"s":"True","c":0,"x":0.1,"y":0.374},{"s":"True","c":0,"x":0.2,"y":1.066},{"s":"True","c":0,"x":0.3,"y":2.074},{"s":"True","c":0,"x":0.4,"y":3.4},{"s":"True","c":0,"x":0.5,"y":5.04},{"s":"True","c":0,"x":0.6,"y":7},{"s":"True","c":0,"x":0.7,"y":9.274},{"s":"True","c":0,"x":0.8,"y":11.86},{"s":"True","c":0,"x":0.9,"y":14.78},{"s":"True","c":0,"x":1,"y":18}
],
"BT_IH":[
{"s":"Rejected","c":1,"x":0,"y":0},{"s":"Rejected","c":1,"x":0.2,"y":1.627},{"s":"Rejected","c":1,"x":0.4,"y":4.305},{"s":"Rejected","c":1,"x":0.5,"y":6.036},{"s":"Rejected","c":1,"x":0.6,"y":8.034},{"s":"Rejected","c":1,"x":0.7,"y":10.506},{"s":"Rejected","c":1,"x":0.8,"y":13.596},{"s":"Rejected","c":1,"x":0.9,"y":17.51},{"s":"Rejected","c":1,"x":1,"y":21.836},
{"s":"Rejected","c":2,"x":0,"y":0},{"s":"Rejected","c":2,"x":0.2,"y":1.627},{"s":"Rejected","c":2,"x":0.4,"y":4.305},{"s":"Rejected","c":2,"x":0.5,"y":6.036},{"s":"Rejected","c":2,"x":0.6,"y":8.034},{"s":"Rejected","c":2,"x":0.7,"y":10.403},{"s":"Rejected","c":2,"x":0.8,"y":13.39},{"s":"Rejected","c":2,"x":0.9,"y":17.304},{"s":"Rejected","c":2,"x":1,"y":21.424},
{"s":"Rejected","c":3,"x":0,"y":0},{"s":"Rejected","c":3,"x":0.2,"y":1.627},{"s":"Rejected","c":3,"x":0.4,"y":4.305},{"s":"Rejected","c":3,"x":0.5,"y":6.036},{"s":"Rejected","c":3,"x":0.6,"y":8.034},{"s":"Rejected","c":3,"x":0.7,"y":10.712},{"s":"Rejected","c":3,"x":0.8,"y":14.42},{"s":"Rejected","c":3,"x":0.9,"y":19.57},{"s":"Rejected","c":3,"x":1,"y":25.75},
{"s":"Rejected","c":4,"x":0,"y":0},{"s":"Rejected","c":4,"x":0.2,"y":1.627},{"s":"Rejected","c":4,"x":0.4,"y":4.305},{"s":"Rejected","c":4,"x":0.5,"y":6.036},{"s":"Rejected","c":4,"x":0.6,"y":8.137},{"s":"Rejected","c":4,"x":0.7,"y":10.918},{"s":"Rejected","c":4,"x":0.8,"y":15.244},{"s":"Rejected","c":4,"x":0.9,"y":21.012},{"s":"Rejected","c":4,"x":1,"y":27.81},
{"s":"Accepted","c":5,"x":0,"y":0},{"s":"Accepted","c":5,"x":0.1,"y":0.686},{"s":"Accepted","c":5,"x":0.2,"y":1.627},{"s":"Accepted","c":5,"x":0.3,"y":2.843},{"s":"Accepted","c":5,"x":0.4,"y":4.305},{"s":"Accepted","c":5,"x":0.5,"y":6.036},{"s":"Accepted","c":5,"x":0.6,"y":8.013},{"s":"Accepted","c":5,"x":0.7,"y":10.259},{"s":"Accepted","c":5,"x":0.8,"y":13.184},{"s":"Accepted","c":5,"x":0.9,"y":16.48},{"s":"Accepted","c":5,"x":1,"y":20.291},
{"s":"Accepted","c":6,"x":0,"y":0},{"s":"Accepted","c":6,"x":0.1,"y":0.686},{"s":"Accepted","c":6,"x":0.2,"y":1.627},{"s":"Accepted","c":6,"x":0.3,"y":2.843},{"s":"Accepted","c":6,"x":0.4,"y":4.305},{"s":"Accepted","c":6,"x":0.5,"y":6.036},{"s":"Accepted","c":6,"x":0.6,"y":8.013},{"s":"Accepted","c":6,"x":0.7,"y":10.259},{"s":"Accepted","c":6,"x":0.8,"y":13.081},{"s":"Accepted","c":6,"x":0.9,"y":16.274},{"s":"Accepted","c":6,"x":1,"y":19.982},
{"s":"True","c":0,"x":0,"y":0},{"s":"True","c":0,"x":0.1,"y":0.686},{"s":"True","c":0,"x":0.2,"y":1.627},{"s":"True","c":0,"x":0.3,"y":2.843},{"s":"True","c":0,"x":0.4,"y":4.305},{"s":"True","c":0,"x":0.5,"y":6.036},{"s":"True","c":0,"x":0.6,"y":8.013},{"s":"True","c":0,"x":0.7,"y":10.259},{"s":"True","c":0,"x":0.8,"y":12.751},{"s":"True","c":0,"x":0.9,"y":15.512},{"s":"True","c":0,"x":1,"y":18.54}
],
"BT_HW":[
{"s":"Rejected","c":1,"x":0,"y":0},{"s":"Rejected","c":1,"x":0.2,"y":1.627},{"s":"Rejected","c":1,"x":0.4,"y":4.305},{"s":"Rejected","c":1,"x":0.5,"y":6.036},{"s":"Rejected","c":1,"x":0.6,"y":8.24},{"s":"Rejected","c":1,"x":0.7,"y":11.536},{"s":"Rejected","c":1,"x":0.8,"y":16.48},{"s":"Rejected","c":1,"x":0.9,"y":22.66},{"s":"Rejected","c":1,"x":1,"y":28.84},
{"s":"Rejected","c":2,"x":0,"y":0},{"s":"Rejected","c":2,"x":0.2,"y":1.627},{"s":"Rejected","c":2,"x":0.4,"y":4.305},{"s":"Rejected","c":2,"x":0.5,"y":6.036},{"s":"Rejected","c":2,"x":0.6,"y":8.137},{"s":"Rejected","c":2,"x":0.7,"y":11.124},{"s":"Rejected","c":2,"x":0.8,"y":15.45},{"s":"Rejected","c":2,"x":0.9,"y":21.012},{"s":"Rejected","c":2,"x":1,"y":26.78},
{"s":"Rejected","c":3,"x":0,"y":0},{"s":"Rejected","c":3,"x":0.2,"y":1.627},{"s":"Rejected","c":3,"x":0.4,"y":4.305},{"s":"Rejected","c":3,"x":0.5,"y":6.036},{"s":"Rejected","c":3,"x":0.6,"y":8.034},{"s":"Rejected","c":3,"x":0.7,"y":10.918},{"s":"Rejected","c":3,"x":0.8,"y":14.832},{"s":"Rejected","c":3,"x":0.9,"y":19.982},{"s":"Rejected","c":3,"x":1,"y":25.75},
{"s":"Rejected","c":4,"x":0,"y":0},{"s":"Rejected","c":4,"x":0.2,"y":1.627},{"s":"Rejected","c":4,"x":0.4,"y":4.305},{"s":"Rejected","c":4,"x":0.5,"y":6.036},{"s":"Rejected","c":4,"x":0.6,"y":8.24},{"s":"Rejected","c":4,"x":0.7,"y":11.742},{"s":"Rejected","c":4,"x":0.8,"y":17.304},{"s":"Rejected","c":4,"x":0.9,"y":24.72},{"s":"Rejected","c":4,"x":1,"y":32.96},
{"s":"Rejected","c":5,"x":0,"y":0},{"s":"Rejected","c":5,"x":0.2,"y":1.627},{"s":"Rejected","c":5,"x":0.4,"y":4.305},{"s":"Rejected","c":5,"x":0.5,"y":6.036},{"s":"Rejected","c":5,"x":0.6,"y":8.075},{"s":"Rejected","c":5,"x":0.7,"y":10.712},{"s":"Rejected","c":5,"x":0.8,"y":14.214},{"s":"Rejected","c":5,"x":0.9,"y":18.952},{"s":"Rejected","c":5,"x":1,"y":24.308},
{"s":"Accepted","c":6,"x":0,"y":0},{"s":"Accepted","c":6,"x":0.1,"y":0.686},{"s":"Accepted","c":6,"x":0.2,"y":1.627},{"s":"Accepted","c":6,"x":0.3,"y":2.843},{"s":"Accepted","c":6,"x":0.4,"y":4.305},{"s":"Accepted","c":6,"x":0.5,"y":6.036},{"s":"Accepted","c":6,"x":0.6,"y":8.013},{"s":"Accepted","c":6,"x":0.7,"y":10.506},{"s":"Accepted","c":6,"x":0.8,"y":13.802},{"s":"Accepted","c":6,"x":0.9,"y":17.716},{"s":"Accepted","c":6,"x":1,"y":21.836},
{"s":"Accepted","c":7,"x":0,"y":0},{"s":"Accepted","c":7,"x":0.1,"y":0.686},{"s":"Accepted","c":7,"x":0.2,"y":1.627},{"s":"Accepted","c":7,"x":0.3,"y":2.843},{"s":"Accepted","c":7,"x":0.4,"y":4.305},{"s":"Accepted","c":7,"x":0.5,"y":6.036},{"s":"Accepted","c":7,"x":0.6,"y":8.013},{"s":"Accepted","c":7,"x":0.7,"y":10.3},{"s":"Accepted","c":7,"x":0.8,"y":13.081},{"s":"Accepted","c":7,"x":0.9,"y":16.068},{"s":"Accepted","c":7,"x":1,"y":19.364},
{"s":"True","c":0,"x":0,"y":0},{"s":"True","c":0,"x":0.1,"y":0.686},{"s":"True","c":0,"x":0.2,"y":1.627},{"s":"True","c":0,"x":0.3,"y":2.843},{"s":"True","c":0,"x":0.4,"y":4.305},{"s":"True","c":0,"x":0.5,"y":6.036},{"s":"True","c":0,"x":0.6,"y":8.013},{"s":"True","c":0,"x":0.7,"y":10.259},{"s":"True","c":0,"x":0.8,"y":12.751},{"s":"True","c":0,"x":0.9,"y":15.512},{"s":"True","c":0,"x":1,"y":18.54}
],
"SS_NH":[
{"s":"Rejected","c":1,"x":0,"y":0},{"s":"Rejected","c":1,"x":0.5,"y":0.55},{"s":"Rejected","c":1,"x":1,"y":1.1},
{"s":"Rejected","c":2,"x":0,"y":0},{"s":"Rejected","c":2,"x":0.5,"y":0.352},{"s":"Rejected","c":2,"x":1,"y":0.704},
{"s":"Rejected","c":3,"x":0,"y":0},{"s":"Rejected","c":3,"x":0.5,"y":0.348},{"s":"Rejected","c":3,"x":1,"y":0.695},
{"s":"Rejected","c":4,"x":0,"y":0},{"s":"Rejected","c":4,"x":0.5,"y":0.378},{"s":"Rejected","c":4,"x":1,"y":0.757},
{"s":"Rejected","c":5,"x":0,"y":0},{"s":"Rejected","c":5,"x":0.5,"y":0.365},{"s":"Rejected","c":5,"x":1,"y":0.73},
{"s":"Accepted","c":6,"x":0,"y":0},{"s":"Accepted","c":6,"x":0.5,"y":0.367},{"s":"Accepted","c":6,"x":1,"y":0.733},
{"s":"Accepted","c":7,"x":0,"y":0},{"s":"Accepted","c":7,"x":0.5,"y":0.361},{"s":"Accepted","c":7,"x":1,"y":0.722},
{"s":"True","c":0,"x":0,"y":0},{"s":"True","c":0,"x":0.5,"y":0.397},{"s":"True","c":0,"x":1,"y":0.795}
],
"SS_IH":[
{"s":"Rejected","c":1,"x":0,"y":0},{"s":"Rejected","c":1,"x":0.2,"y":0.198},{"s":"Rejected","c":1,"x":0.4,"y":0.792},{"s":"Rejected","c":1,"x":0.5,"y":1.32},{"s":"Rejected","c":1,"x":0.6,"y":2.046},{"s":"Rejected","c":1,"x":0.7,"y":2.97},{"s":"Rejected","c":1,"x":0.8,"y":4.158},{"s":"Rejected","c":1,"x":0.9,"y":5.61},{"s":"Rejected","c":1,"x":1,"y":7.26},
{"s":"Rejected","c":2,"x":0,"y":0},{"s":"Rejected","c":2,"x":0.2,"y":0.231},{"s":"Rejected","c":2,"x":0.4,"y":0.858},{"s":"Rejected","c":2,"x":0.5,"y":1.386},{"s":"Rejected","c":2,"x":0.6,"y":2.112},{"s":"Rejected","c":2,"x":0.7,"y":3.036},{"s":"Rejected","c":2,"x":0.8,"y":4.224},{"s":"Rejected","c":2,"x":0.9,"y":5.676},{"s":"Rejected","c":2,"x":1,"y":7.26},
{"s":"Rejected","c":3,"x":0,"y":0},{"s":"Rejected","c":3,"x":0.2,"y":0.211},{"s":"Rejected","c":3,"x":0.4,"y":0.825},{"s":"Rejected","c":3,"x":0.5,"y":1.353},{"s":"Rejected","c":3,"x":0.6,"y":2.079},{"s":"Rejected","c":3,"x":0.7,"y":3.003},{"s":"Rejected","c":3,"x":0.8,"y":4.191},{"s":"Rejected","c":3,"x":0.9,"y":5.643},{"s":"Rejected","c":3,"x":1,"y":7.26},
{"s":"Rejected","c":4,"x":0,"y":0},{"s":"Rejected","c":4,"x":0.2,"y":0.264},{"s":"Rejected","c":4,"x":0.4,"y":0.924},{"s":"Rejected","c":4,"x":0.5,"y":1.518},{"s":"Rejected","c":4,"x":0.6,"y":2.31},{"s":"Rejected","c":4,"x":0.7,"y":3.3},{"s":"Rejected","c":4,"x":0.8,"y":4.62},{"s":"Rejected","c":4,"x":0.9,"y":6.27},{"s":"Rejected","c":4,"x":1,"y":7.92},
{"s":"Rejected","c":5,"x":0,"y":0},{"s":"Rejected","c":5,"x":0.2,"y":0.726},{"s":"Rejected","c":5,"x":0.4,"y":1.518},{"s":"Rejected","c":5,"x":0.5,"y":1.914},{"s":"Rejected","c":5,"x":0.6,"y":2.376},{"s":"Rejected","c":5,"x":0.7,"y":2.838},{"s":"Rejected","c":5,"x":0.8,"y":3.3},{"s":"Rejected","c":5,"x":0.9,"y":3.762},{"s":"Rejected","c":5,"x":1,"y":4.29},
{"s":"Rejected","c":6,"x":0,"y":0},{"s":"Rejected","c":6,"x":0.2,"y":0.528},{"s":"Rejected","c":6,"x":0.4,"y":1.188},{"s":"Rejected","c":6,"x":0.5,"y":1.716},{"s":"Rejected","c":6,"x":0.6,"y":2.376},{"s":"Rejected","c":6,"x":0.7,"y":3.168},{"s":"Rejected","c":6,"x":0.8,"y":4.158},{"s":"Rejected","c":6,"x":0.9,"y":5.412},{"s":"Rejected","c":6,"x":1,"y":6.93},
{"s":"Accepted","c":7,"x":0,"y":0},{"s":"Accepted","c":7,"x":0.1,"y":0.264},{"s":"Accepted","c":7,"x":0.2,"y":0.594},{"s":"Accepted","c":7,"x":0.3,"y":0.957},{"s":"Accepted","c":7,"x":0.4,"y":1.386},{"s":"Accepted","c":7,"x":0.5,"y":1.914},{"s":"Accepted","c":7,"x":0.6,"y":2.541},{"s":"Accepted","c":7,"x":0.7,"y":3.267},{"s":"Accepted","c":7,"x":0.8,"y":4.125},{"s":"Accepted","c":7,"x":0.9,"y":5.148},{"s":"Accepted","c":7,"x":1,"y":6.402},
{"s":"Accepted","c":8,"x":0,"y":0},{"s":"Accepted","c":8,"x":0.1,"y":0.264},{"s":"Accepted","c":8,"x":0.2,"y":0.581},{"s":"Accepted","c":8,"x":0.3,"y":0.937},{"s":"Accepted","c":8,"x":0.4,"y":1.353},{"s":"Accepted","c":8,"x":0.5,"y":1.848},{"s":"Accepted","c":8,"x":0.6,"y":2.442},{"s":"Accepted","c":8,"x":0.7,"y":3.135},{"s":"Accepted","c":8,"x":0.8,"y":3.96},{"s":"Accepted","c":8,"x":0.9,"y":4.983},{"s":"Accepted","c":8,"x":1,"y":6.237},
{"s":"True","c":0,"x":0,"y":0},{"s":"True","c":0,"x":0.1,"y":0.264},{"s":"True","c":0,"x":0.2,"y":0.561},{"s":"True","c":0,"x":0.3,"y":0.891},{"s":"True","c":0,"x":0.4,"y":1.254},{"s":"True","c":0,"x":0.5,"y":1.683},{"s":"True","c":0,"x":0.6,"y":2.211},{"s":"True","c":0,"x":0.7,"y":2.838},{"s":"True","c":0,"x":0.8,"y":3.63},{"s":"True","c":0,"x":0.9,"y":4.62},{"s":"True","c":0,"x":1,"y":5.96}
],
"SS_HW":[
{"s":"Rejected","c":1,"x":0,"y":0},{"s":"Rejected","c":1,"x":0.2,"y":0.198},{"s":"Rejected","c":1,"x":0.4,"y":0.726},{"s":"Rejected","c":1,"x":0.5,"y":1.254},{"s":"Rejected","c":1,"x":0.6,"y":1.98},{"s":"Rejected","c":1,"x":0.7,"y":2.97},{"s":"Rejected","c":1,"x":0.8,"y":4.224},{"s":"Rejected","c":1,"x":0.9,"y":5.808},{"s":"Rejected","c":1,"x":1,"y":7.59},
{"s":"Rejected","c":2,"x":0,"y":0},{"s":"Rejected","c":2,"x":0.2,"y":0.231},{"s":"Rejected","c":2,"x":0.4,"y":0.792},{"s":"Rejected","c":2,"x":0.5,"y":1.32},{"s":"Rejected","c":2,"x":0.6,"y":2.112},{"s":"Rejected","c":2,"x":0.7,"y":3.168},{"s":"Rejected","c":2,"x":0.8,"y":4.488},{"s":"Rejected","c":2,"x":0.9,"y":6.138},{"s":"Rejected","c":2,"x":1,"y":7.92},
{"s":"Rejected","c":3,"x":0,"y":0},{"s":"Rejected","c":3,"x":0.2,"y":0.211},{"s":"Rejected","c":3,"x":0.4,"y":0.759},{"s":"Rejected","c":3,"x":0.5,"y":1.287},{"s":"Rejected","c":3,"x":0.6,"y":2.046},{"s":"Rejected","c":3,"x":0.7,"y":3.069},{"s":"Rejected","c":3,"x":0.8,"y":4.356},{"s":"Rejected","c":3,"x":0.9,"y":5.973},{"s":"Rejected","c":3,"x":1,"y":7.722},
{"s":"Rejected","c":4,"x":0,"y":0},{"s":"Rejected","c":4,"x":0.2,"y":0.264},{"s":"Rejected","c":4,"x":0.4,"y":0.858},{"s":"Rejected","c":4,"x":0.5,"y":1.452},{"s":"Rejected","c":4,"x":0.6,"y":2.244},{"s":"Rejected","c":4,"x":0.7,"y":3.3},{"s":"Rejected","c":4,"x":0.8,"y":4.752},{"s":"Rejected","c":4,"x":0.9,"y":6.6},{"s":"Rejected","c":4,"x":1,"y":8.58},
{"s":"Rejected","c":5,"x":0,"y":0},{"s":"Rejected","c":5,"x":0.2,"y":0.66},{"s":"Rejected","c":5,"x":0.4,"y":1.452},{"s":"Rejected","c":5,"x":0.5,"y":1.848},{"s":"Rejected","c":5,"x":0.6,"y":2.31},{"s":"Rejected","c":5,"x":0.7,"y":2.772},{"s":"Rejected","c":5,"x":0.8,"y":3.3},{"s":"Rejected","c":5,"x":0.9,"y":3.828},{"s":"Rejected","c":5,"x":1,"y":4.356},
{"s":"Accepted","c":6,"x":0,"y":0},{"s":"Accepted","c":6,"x":0.1,"y":0.297},{"s":"Accepted","c":6,"x":0.2,"y":0.594},{"s":"Accepted","c":6,"x":0.3,"y":0.924},{"s":"Accepted","c":6,"x":0.4,"y":1.32},{"s":"Accepted","c":6,"x":0.5,"y":1.782},{"s":"Accepted","c":6,"x":0.6,"y":2.376},{"s":"Accepted","c":6,"x":0.7,"y":3.102},{"s":"Accepted","c":6,"x":0.8,"y":4.026},{"s":"Accepted","c":6,"x":0.9,"y":5.214},{"s":"Accepted","c":6,"x":1,"y":6.6},
{"s":"Accepted","c":7,"x":0,"y":0},{"s":"Accepted","c":7,"x":0.1,"y":0.297},{"s":"Accepted","c":7,"x":0.2,"y":0.594},{"s":"Accepted","c":7,"x":0.3,"y":0.924},{"s":"Accepted","c":7,"x":0.4,"y":1.32},{"s":"Accepted","c":7,"x":0.5,"y":1.782},{"s":"Accepted","c":7,"x":0.6,"y":2.31},{"s":"Accepted","c":7,"x":0.7,"y":2.97},{"s":"Accepted","c":7,"x":0.8,"y":3.762},{"s":"Accepted","c":7,"x":0.9,"y":4.752},{"s":"Accepted","c":7,"x":1,"y":5.874},
{"s":"True","c":0,"x":0,"y":0},{"s":"True","c":0,"x":0.1,"y":0.297},{"s":"True","c":0,"x":0.2,"y":0.6},{"s":"True","c":0,"x":0.3,"y":0.93},{"s":"True","c":0,"x":0.4,"y":1.27},{"s":"True","c":0,"x":0.5,"y":1.65},{"s":"True","c":0,"x":0.6,"y":2.08},{"s":"True","c":0,"x":0.7,"y":2.64},{"s":"True","c":0,"x":0.8,"y":3.37},{"s":"True","c":0,"x":0.9,"y":4.39},{"s":"True","c":0,"x":0.95,"y":5.11},{"s":"True","c":0,"x":1,"y":5.96}
]
},
"columns":3,
"spacing":{"row":40,"column":99},
"bounds":"flush",
"concat":[
{"data":{"name":"UT_NH"},"width":199,"height":199,"title":"Benchmark: NH","mark":{"type":"line","clip":true,"interpolate":"monotone"},"encoding":{"x":{"field":"x","type":"quantitative","scale":{"domain":[0,1],"nice":false},"axis":{"values":[0,0.5,1],"format":".1f","title":null}},"y":{"field":"y","type":"quantitative","scale":{"domain":[0,2.6],"nice":false},"axis":{"values":[0,1.3,2.6],"labelExpr":"''+round(datum.value)","title":["UT","𝐏₁₁(𝛾)"]}},"color":{"field":"s","type":"nominal","scale":{"domain":["Accepted","Rejected","True"],"range":["#008000","#ff0000","#8800b8"]},"legend":{"title":null}},"strokeDash":{"field":"s","type":"nominal","scale":{"domain":["Accepted","Rejected","True"],"range":[[6,3.2],[1.6,2.6],[1,0]]},"legend":{"title":null}},"strokeWidth":{"field":"s","type":"nominal","scale":{"type":"ordinal","domain":["Accepted","Rejected","True"],"range":[1.8,1,3.2]},"legend":{"title":null}},"opacity":{"field":"s","type":"nominal","scale":{"type":"ordinal","domain":["Accepted","Rejected","True"],"range":[0.65,0.3,1]},"legend":{"title":null}},"detail":{"field":"c","type":"nominal"}}},
{"data":{"name":"UT_IH"},"width":199,"height":199,"title":"Benchmark: IH","mark":{"type":"line","clip":true,"interpolate":"monotone"},"encoding":{"x":{"field":"x","type":"quantitative","scale":{"domain":[0,1],"nice":false},"axis":{"values":[0,0.5,1],"format":".1f","title":null}},"y":{"field":"y","type":"quantitative","scale":{"domain":[0,6.6],"nice":false},"axis":{"values":[0,3.3,6.6],"labelExpr":"''+round(datum.value)","title":"𝐏₁₁(𝛾)"}},"color":{"field":"s","type":"nominal","scale":{"domain":["Accepted","Rejected","True"],"range":["#008000","#ff0000","#8800b8"]},"legend":{"title":null}},"strokeDash":{"field":"s","type":"nominal","scale":{"domain":["Accepted","Rejected","True"],"range":[[6,3.2],[1.6,2.6],[1,0]]},"legend":{"title":null}},"strokeWidth":{"field":"s","type":"nominal","scale":{"type":"ordinal","domain":["Accepted","Rejected","True"],"range":[1.8,1,3.2]},"legend":{"title":null}},"opacity":{"field":"s","type":"nominal","scale":{"type":"ordinal","domain":["Accepted","Rejected","True"],"range":[0.65,0.3,1]},"legend":{"title":null}},"detail":{"field":"c","type":"nominal"}}},
{"data":{"name":"UT_HW"},"width":199,"height":199,"title":"Benchmark: HW","mark":{"type":"line","clip":true,"interpolate":"monotone"},"encoding":{"x":{"field":"x","type":"quantitative","scale":{"domain":[0,1],"nice":false},"axis":{"values":[0,0.5,1],"format":".1f","title":null}},"y":{"field":"y","type":"quantitative","scale":{"domain":[0,5.8],"nice":false},"axis":{"values":[0,2.9,5.8],"labelExpr":"''+round(datum.value)","title":"𝐏₁₁(𝛾)"}},"color":{"field":"s","type":"nominal","scale":{"domain":["Accepted","Rejected","True"],"range":["#008000","#ff0000","#8800b8"]},"legend":{"title":null}},"strokeDash":{"field":"s","type":"nominal","scale":{"domain":["Accepted","Rejected","True"],"range":[[6,3.2],[1.6,2.6],[1,0]]},"legend":{"title":null}},"strokeWidth":{"field":"s","type":"nominal","scale":{"type":"ordinal","domain":["Accepted","Rejected","True"],"range":[1.8,1,3.2]},"legend":{"title":null}},"opacity":{"field":"s","type":"nominal","scale":{"type":"ordinal","domain":["Accepted","Rejected","True"],"range":[0.65,0.3,1]},"legend":{"title":null}},"detail":{"field":"c","type":"nominal"}}},
{"data":{"name":"UC_NH"},"width":199,"height":199,"mark":{"type":"line","clip":true,"interpolate":"monotone"},"encoding":{"x":{"field":"x","type":"quantitative","scale":{"domain":[0,1],"nice":false},"axis":{"values":[0,0.5,1],"format":".1f","title":null}},"y":{"field":"y","type":"quantitative","scale":{"domain":[-2.8,0],"nice":false},"axis":{"values":[0,-1.4,-2.8],"labelExpr":"''+round(datum.value)","title":["UC","𝐏₁₁(𝛾)"]}},"color":{"field":"s","type":"nominal","scale":{"domain":["Accepted","Rejected","True"],"range":["#008000","#ff0000","#8800b8"]},"legend":{"title":null}},"strokeDash":{"field":"s","type":"nominal","scale":{"domain":["Accepted","Rejected","True"],"range":[[6,3.2],[1.6,2.6],[1,0]]},"legend":{"title":null}},"strokeWidth":{"field":"s","type":"nominal","scale":{"type":"ordinal","domain":["Accepted","Rejected","True"],"range":[1.8,1,3.2]},"legend":{"title":null}},"opacity":{"field":"s","type":"nominal","scale":{"type":"ordinal","domain":["Accepted","Rejected","True"],"range":[0.65,0.3,1]},"legend":{"title":null}},"detail":{"field":"c","type":"nominal"}}},
{"data":{"name":"UC_IH"},"width":199,"height":199,"mark":{"type":"line","clip":true,"interpolate":"monotone"},"encoding":{"x":{"field":"x","type":"quantitative","scale":{"domain":[0,1],"nice":false},"axis":{"values":[0,0.5,1],"format":".1f","title":null}},"y":{"field":"y","type":"quantitative","scale":{"domain":[-12,0],"nice":false},"axis":{"values":[0,-6,-12],"labelExpr":"''+round(datum.value)","title":"𝐏₁₁(𝛾)"}},"color":{"field":"s","type":"nominal","scale":{"domain":["Accepted","Rejected","True"],"range":["#008000","#ff0000","#8800b8"]},"legend":{"title":null}},"strokeDash":{"field":"s","type":"nominal","scale":{"domain":["Accepted","Rejected","True"],"range":[[6,3.2],[1.6,2.6],[1,0]]},"legend":{"title":null}},"strokeWidth":{"field":"s","type":"nominal","scale":{"type":"ordinal","domain":["Accepted","Rejected","True"],"range":[1.8,1,3.2]},"legend":{"title":null}},"opacity":{"field":"s","type":"nominal","scale":{"type":"ordinal","domain":["Accepted","Rejected","True"],"range":[0.65,0.3,1]},"legend":{"title":null}},"detail":{"field":"c","type":"nominal"}}},
{"data":{"name":"UC_HW"},"width":199,"height":199,"mark":{"type":"line","clip":true,"interpolate":"monotone"},"encoding":{"x":{"field":"x","type":"quantitative","scale":{"domain":[0,1],"nice":false},"axis":{"values":[0,0.5,1],"format":".1f","title":null}},"y":{"field":"y","type":"quantitative","scale":{"domain":[-12.6,0],"nice":false},"axis":{"values":[0,-6.3,-12.6],"labelExpr":"''+round(datum.value)","title":"𝐏₁₁(𝛾)"}},"color":{"field":"s","type":"nominal","scale":{"domain":["Accepted","Rejected","True"],"range":["#008000","#ff0000","#8800b8"]},"legend":{"title":null}},"strokeDash":{"field":"s","type":"nominal","scale":{"domain":["Accepted","Rejected","True"],"range":[[6,3.2],[1.6,2.6],[1,0]]},"legend":{"title":null}},"strokeWidth":{"field":"s","type":"nominal","scale":{"type":"ordinal","domain":["Accepted","Rejected","True"],"range":[1.8,1,3.2]},"legend":{"title":null}},"opacity":{"field":"s","type":"nominal","scale":{"type":"ordinal","domain":["Accepted","Rejected","True"],"range":[0.65,0.3,1]},"legend":{"title":null}},"detail":{"field":"c","type":"nominal"}}},
{"data":{"name":"PS_NH"},"width":199,"height":199,"mark":{"type":"line","clip":true,"interpolate":"monotone"},"encoding":{"x":{"field":"x","type":"quantitative","scale":{"domain":[0,1],"nice":false},"axis":{"values":[0,0.5,1],"format":".1f","title":null}},"y":{"field":"y","type":"quantitative","scale":{"domain":[-2.6,0],"nice":false},"axis":{"values":[0,-1.3,-2.6],"labelExpr":"''+round(datum.value)","title":["PS","𝐏₂₂(𝛾)"]}},"color":{"field":"s","type":"nominal","scale":{"domain":["Accepted","Rejected","True"],"range":["#008000","#ff0000","#8800b8"]},"legend":{"title":null}},"strokeDash":{"field":"s","type":"nominal","scale":{"domain":["Accepted","Rejected","True"],"range":[[6,3.2],[1.6,2.6],[1,0]]},"legend":{"title":null}},"strokeWidth":{"field":"s","type":"nominal","scale":{"type":"ordinal","domain":["Accepted","Rejected","True"],"range":[1.8,1,3.2]},"legend":{"title":null}},"opacity":{"field":"s","type":"nominal","scale":{"type":"ordinal","domain":["Accepted","Rejected","True"],"range":[0.65,0.3,1]},"legend":{"title":null}},"detail":{"field":"c","type":"nominal"}}},
{"data":{"name":"PS_IH"},"width":199,"height":199,"mark":{"type":"line","clip":true,"interpolate":"monotone"},"encoding":{"x":{"field":"x","type":"quantitative","scale":{"domain":[0,1],"nice":false},"axis":{"values":[0,0.5,1],"format":".1f","title":null}},"y":{"field":"y","type":"quantitative","scale":{"domain":[-42,0],"nice":false},"axis":{"values":[0,-21,-42],"labelExpr":"''+round(datum.value)","title":"𝐏₂₂(𝛾)"}},"color":{"field":"s","type":"nominal","scale":{"domain":["Accepted","Rejected","True"],"range":["#008000","#ff0000","#8800b8"]},"legend":{"title":null}},"strokeDash":{"field":"s","type":"nominal","scale":{"domain":["Accepted","Rejected","True"],"range":[[6,3.2],[1.6,2.6],[1,0]]},"legend":{"title":null}},"strokeWidth":{"field":"s","type":"nominal","scale":{"type":"ordinal","domain":["Accepted","Rejected","True"],"range":[1.8,1,3.2]},"legend":{"title":null}},"opacity":{"field":"s","type":"nominal","scale":{"type":"ordinal","domain":["Accepted","Rejected","True"],"range":[0.65,0.3,1]},"legend":{"title":null}},"detail":{"field":"c","type":"nominal"}}},
{"data":{"name":"PS_HW"},"width":199,"height":199,"mark":{"type":"line","clip":true,"interpolate":"monotone"},"encoding":{"x":{"field":"x","type":"quantitative","scale":{"domain":[0,1],"nice":false},"axis":{"values":[0,0.5,1],"format":".1f","title":null}},"y":{"field":"y","type":"quantitative","scale":{"domain":[-58.6,0],"nice":false},"axis":{"values":[0,-29.3,-58.6],"labelExpr":"''+round(datum.value)","title":"𝐏₂₂(𝛾)"}},"color":{"field":"s","type":"nominal","scale":{"domain":["Accepted","Rejected","True"],"range":["#008000","#ff0000","#8800b8"]},"legend":{"title":null}},"strokeDash":{"field":"s","type":"nominal","scale":{"domain":["Accepted","Rejected","True"],"range":[[6,3.2],[1.6,2.6],[1,0]]},"legend":{"title":null}},"strokeWidth":{"field":"s","type":"nominal","scale":{"type":"ordinal","domain":["Accepted","Rejected","True"],"range":[1.8,1,3.2]},"legend":{"title":null}},"opacity":{"field":"s","type":"nominal","scale":{"type":"ordinal","domain":["Accepted","Rejected","True"],"range":[0.65,0.3,1]},"legend":{"title":null}},"detail":{"field":"c","type":"nominal"}}},
{"data":{"name":"BC_NH"},"width":199,"height":199,"mark":{"type":"line","clip":true,"interpolate":"monotone"},"encoding":{"x":{"field":"x","type":"quantitative","scale":{"domain":[0,1],"nice":false},"axis":{"values":[0,0.5,1],"format":".1f","title":null}},"y":{"field":"y","type":"quantitative","scale":{"domain":[-1.8,0],"nice":false},"axis":{"values":[0,-0.9,-1.8],"labelExpr":"''+round(datum.value)","title":["BC","𝐏₁₁(𝛾)"]}},"color":{"field":"s","type":"nominal","scale":{"domain":["Accepted","Rejected","True"],"range":["#008000","#ff0000","#8800b8"]},"legend":{"title":null}},"strokeDash":{"field":"s","type":"nominal","scale":{"domain":["Accepted","Rejected","True"],"range":[[6,3.2],[1.6,2.6],[1,0]]},"legend":{"title":null}},"strokeWidth":{"field":"s","type":"nominal","scale":{"type":"ordinal","domain":["Accepted","Rejected","True"],"range":[1.8,1,3.2]},"legend":{"title":null}},"opacity":{"field":"s","type":"nominal","scale":{"type":"ordinal","domain":["Accepted","Rejected","True"],"range":[0.65,0.3,1]},"legend":{"title":null}},"detail":{"field":"c","type":"nominal"}}},
{"data":{"name":"BC_IH"},"width":199,"height":199,"mark":{"type":"line","clip":true,"interpolate":"monotone"},"encoding":{"x":{"field":"x","type":"quantitative","scale":{"domain":[0,1],"nice":false},"axis":{"values":[0,0.5,1],"format":".1f","title":null}},"y":{"field":"y","type":"quantitative","scale":{"domain":[-8,0],"nice":false},"axis":{"values":[0,-4,-8],"labelExpr":"''+round(datum.value)","title":"𝐏₁₁(𝛾)"}},"color":{"field":"s","type":"nominal","scale":{"domain":["Accepted","Rejected","True"],"range":["#008000","#ff0000","#8800b8"]},"legend":{"title":null}},"strokeDash":{"field":"s","type":"nominal","scale":{"domain":["Accepted","Rejected","True"],"range":[[6,3.2],[1.6,2.6],[1,0]]},"legend":{"title":null}},"strokeWidth":{"field":"s","type":"nominal","scale":{"type":"ordinal","domain":["Accepted","Rejected","True"],"range":[1.8,1,3.2]},"legend":{"title":null}},"opacity":{"field":"s","type":"nominal","scale":{"type":"ordinal","domain":["Accepted","Rejected","True"],"range":[0.65,0.3,1]},"legend":{"title":null}},"detail":{"field":"c","type":"nominal"}}},
{"data":{"name":"BC_HW"},"width":199,"height":199,"mark":{"type":"line","clip":true,"interpolate":"monotone"},"encoding":{"x":{"field":"x","type":"quantitative","scale":{"domain":[0,1],"nice":false},"axis":{"values":[0,0.5,1],"format":".1f","title":null}},"y":{"field":"y","type":"quantitative","scale":{"domain":[-6.6,0],"nice":false},"axis":{"values":[0,-3.3,-6.6],"labelExpr":"''+round(datum.value)","title":"𝐏₁₁(𝛾)"}},"color":{"field":"s","type":"nominal","scale":{"domain":["Accepted","Rejected","True"],"range":["#008000","#ff0000","#8800b8"]},"legend":{"title":null}},"strokeDash":{"field":"s","type":"nominal","scale":{"domain":["Accepted","Rejected","True"],"range":[[6,3.2],[1.6,2.6],[1,0]]},"legend":{"title":null}},"strokeWidth":{"field":"s","type":"nominal","scale":{"type":"ordinal","domain":["Accepted","Rejected","True"],"range":[1.8,1,3.2]},"legend":{"title":null}},"opacity":{"field":"s","type":"nominal","scale":{"type":"ordinal","domain":["Accepted","Rejected","True"],"range":[0.65,0.3,1]},"legend":{"title":null}},"detail":{"field":"c","type":"nominal"}}},
{"data":{"name":"BT_NH"},"width":199,"height":199,"mark":{"type":"line","clip":true,"interpolate":"monotone"},"encoding":{"x":{"field":"x","type":"quantitative","scale":{"domain":[0,1],"nice":false},"axis":{"values":[0,0.5,1],"format":".1f","title":null}},"y":{"field":"y","type":"quantitative","scale":{"domain":[0,20],"nice":false},"axis":{"values":[0,10,20],"labelExpr":"''+round(datum.value)","title":["BT","𝐏₁₁(𝛾)"]}},"color":{"field":"s","type":"nominal","scale":{"domain":["Accepted","Rejected","True"],"range":["#008000","#ff0000","#8800b8"]},"legend":{"title":null}},"strokeDash":{"field":"s","type":"nominal","scale":{"domain":["Accepted","Rejected","True"],"range":[[6,3.2],[1.6,2.6],[1,0]]},"legend":{"title":null}},"strokeWidth":{"field":"s","type":"nominal","scale":{"type":"ordinal","domain":["Accepted","Rejected","True"],"range":[1.8,1,3.2]},"legend":{"title":null}},"opacity":{"field":"s","type":"nominal","scale":{"type":"ordinal","domain":["Accepted","Rejected","True"],"range":[0.65,0.3,1]},"legend":{"title":null}},"detail":{"field":"c","type":"nominal"}}},
{"data":{"name":"BT_IH"},"width":199,"height":199,"mark":{"type":"line","clip":true,"interpolate":"monotone"},"encoding":{"x":{"field":"x","type":"quantitative","scale":{"domain":[0,1],"nice":false},"axis":{"values":[0,0.5,1],"format":".1f","title":null}},"y":{"field":"y","type":"quantitative","scale":{"domain":[0,20.6],"nice":false},"axis":{"values":[0,10.3,20.6],"labelExpr":"''+round(datum.value)","title":"𝐏₁₁(𝛾)"}},"color":{"field":"s","type":"nominal","scale":{"domain":["Accepted","Rejected","True"],"range":["#008000","#ff0000","#8800b8"]},"legend":{"title":null}},"strokeDash":{"field":"s","type":"nominal","scale":{"domain":["Accepted","Rejected","True"],"range":[[6,3.2],[1.6,2.6],[1,0]]},"legend":{"title":null}},"strokeWidth":{"field":"s","type":"nominal","scale":{"type":"ordinal","domain":["Accepted","Rejected","True"],"range":[1.8,1,3.2]},"legend":{"title":null}},"opacity":{"field":"s","type":"nominal","scale":{"type":"ordinal","domain":["Accepted","Rejected","True"],"range":[0.65,0.3,1]},"legend":{"title":null}},"detail":{"field":"c","type":"nominal"}}},
{"data":{"name":"BT_HW"},"width":199,"height":199,"mark":{"type":"line","clip":true,"interpolate":"monotone"},"encoding":{"x":{"field":"x","type":"quantitative","scale":{"domain":[0,1],"nice":false},"axis":{"values":[0,0.5,1],"format":".1f","title":null}},"y":{"field":"y","type":"quantitative","scale":{"domain":[0,20.6],"nice":false},"axis":{"values":[0,10.3,20.6],"labelExpr":"''+round(datum.value)","title":"𝐏₁₁(𝛾)"}},"color":{"field":"s","type":"nominal","scale":{"domain":["Accepted","Rejected","True"],"range":["#008000","#ff0000","#8800b8"]},"legend":{"title":null}},"strokeDash":{"field":"s","type":"nominal","scale":{"domain":["Accepted","Rejected","True"],"range":[[6,3.2],[1.6,2.6],[1,0]]},"legend":{"title":null}},"strokeWidth":{"field":"s","type":"nominal","scale":{"type":"ordinal","domain":["Accepted","Rejected","True"],"range":[1.8,1,3.2]},"legend":{"title":null}},"opacity":{"field":"s","type":"nominal","scale":{"type":"ordinal","domain":["Accepted","Rejected","True"],"range":[0.65,0.3,1]},"legend":{"title":null}},"detail":{"field":"c","type":"nominal"}}},
{"data":{"name":"SS_NH"},"width":199,"height":199,"mark":{"type":"line","clip":true,"interpolate":"monotone"},"encoding":{"x":{"field":"x","type":"quantitative","scale":{"domain":[0,1],"nice":false},"axis":{"values":[0,0.5,1],"format":".1f","title":null}},"y":{"field":"y","type":"quantitative","scale":{"domain":[0,0.88],"nice":false},"axis":{"values":[0,0.44,0.88],"labelExpr":"''+round(datum.value)","title":["SS","𝐏₁₂(𝛾)"]}},"color":{"field":"s","type":"nominal","scale":{"domain":["Accepted","Rejected","True"],"range":["#008000","#ff0000","#8800b8"]},"legend":{"title":null}},"strokeDash":{"field":"s","type":"nominal","scale":{"domain":["Accepted","Rejected","True"],"range":[[6,3.2],[1.6,2.6],[1,0]]},"legend":{"title":null}},"strokeWidth":{"field":"s","type":"nominal","scale":{"type":"ordinal","domain":["Accepted","Rejected","True"],"range":[1.8,1,3.2]},"legend":{"title":null}},"opacity":{"field":"s","type":"nominal","scale":{"type":"ordinal","domain":["Accepted","Rejected","True"],"range":[0.65,0.3,1]},"legend":{"title":null}},"detail":{"field":"c","type":"nominal"}}},
{"data":{"name":"SS_IH"},"width":199,"height":199,"mark":{"type":"line","clip":true,"interpolate":"monotone"},"encoding":{"x":{"field":"x","type":"quantitative","scale":{"domain":[0,1],"nice":false},"axis":{"values":[0,0.5,1],"format":".1f","title":null}},"y":{"field":"y","type":"quantitative","scale":{"domain":[0,6.6],"nice":false},"axis":{"values":[0,3.3,6.6],"labelExpr":"''+round(datum.value)","title":"𝐏₁₂(𝛾)"}},"color":{"field":"s","type":"nominal","scale":{"domain":["Accepted","Rejected","True"],"range":["#008000","#ff0000","#8800b8"]},"legend":{"title":null}},"strokeDash":{"field":"s","type":"nominal","scale":{"domain":["Accepted","Rejected","True"],"range":[[6,3.2],[1.6,2.6],[1,0]]},"legend":{"title":null}},"strokeWidth":{"field":"s","type":"nominal","scale":{"type":"ordinal","domain":["Accepted","Rejected","True"],"range":[1.8,1,3.2]},"legend":{"title":null}},"opacity":{"field":"s","type":"nominal","scale":{"type":"ordinal","domain":["Accepted","Rejected","True"],"range":[0.65,0.3,1]},"legend":{"title":null}},"detail":{"field":"c","type":"nominal"}}},
{"data":{"name":"SS_HW"},"width":199,"height":199,"mark":{"type":"line","clip":true,"interpolate":"monotone"},"encoding":{"x":{"field":"x","type":"quantitative","scale":{"domain":[0,1],"nice":false},"axis":{"values":[0,0.5,1],"format":".1f","title":null}},"y":{"field":"y","type":"quantitative","scale":{"domain":[0,6.6],"nice":false},"axis":{"values":[0,3.3,6.6],"labelExpr":"''+round(datum.value)","title":"𝐏₁₂(𝛾)"}},"color":{"field":"s","type":"nominal","scale":{"domain":["Accepted","Rejected","True"],"range":["#008000","#ff0000","#8800b8"]},"legend":{"title":null}},"strokeDash":{"field":"s","type":"nominal","scale":{"domain":["Accepted","Rejected","True"],"range":[[6,3.2],[1.6,2.6],[1,0]]},"legend":{"title":null}},"strokeWidth":{"field":"s","type":"nominal","scale":{"type":"ordinal","domain":["Accepted","Rejected","True"],"range":[1.8,1,3.2]},"legend":{"title":null}},"opacity":{"field":"s","type":"nominal","scale":{"type":"ordinal","domain":["Accepted","Rejected","True"],"range":[0.65,0.3,1]},"legend":{"title":null}},"detail":{"field":"c","type":"nominal"}}}
]
}
